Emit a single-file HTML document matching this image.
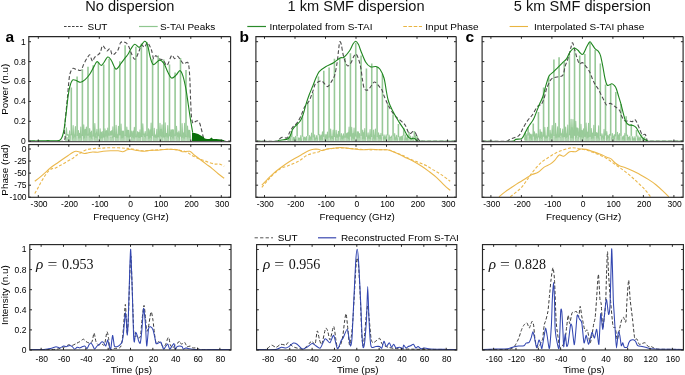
<!DOCTYPE html><html><head><meta charset="utf-8"><style>html,body{margin:0;padding:0;background:#fff;}svg{display:block;filter:blur(0.35px);}</style></head><body>
<svg width="685" height="375" viewBox="0 0 685 375">
<rect width="685" height="375" fill="#fff"/>
<text x="129.8" y="10.8" font-size="14.6" text-anchor="middle" font-weight="normal" font-family='"Liberation Sans", sans-serif' fill="#111" >No dispersion</text>
<text x="356" y="10.8" font-size="14.6" text-anchor="middle" font-weight="normal" font-family='"Liberation Sans", sans-serif' fill="#111" >1 km SMF dispersion</text>
<text x="582.4" y="10.8" font-size="14.6" text-anchor="middle" font-weight="normal" font-family='"Liberation Sans", sans-serif' fill="#111" >5 km SMF dispersion</text>
<path d="M64,26.5H83.5" stroke="#444" stroke-width="1" stroke-dasharray="2.6,1.4" fill="none"/>
<text x="0" y="0" font-size="9.3" text-anchor="start" font-weight="normal" font-family='"Liberation Sans", sans-serif' fill="#000" transform="translate(87.5,30) scale(1.075,1)" >SUT</text>
<path d="M139,26.5H157.7" stroke="#8fc68f" stroke-width="1.2" fill="none"/>
<text x="0" y="0" font-size="9.3" text-anchor="start" font-weight="normal" font-family='"Liberation Sans", sans-serif' fill="#000" transform="translate(159.9,30) scale(1.075,1)" >S-TAI Peaks</text>
<path d="M247.3,26.5H266" stroke="#2a8a2a" stroke-width="1.2" fill="none"/>
<text x="0" y="0" font-size="9.3" text-anchor="start" font-weight="normal" font-family='"Liberation Sans", sans-serif' fill="#000" transform="translate(269.4,30) scale(1.075,1)" >Interpolated from S-TAI</text>
<path d="M403.3,26.5H422" stroke="#e9b440" stroke-width="1.1" stroke-dasharray="3.6,1.6" fill="none"/>
<text x="0" y="0" font-size="9.3" text-anchor="start" font-weight="normal" font-family='"Liberation Sans", sans-serif' fill="#000" transform="translate(425.3,30) scale(1.075,1)" >Input Phase</text>
<path d="M509.6,26.5H528" stroke="#e9b440" stroke-width="1.1" fill="none"/>
<text x="0" y="0" font-size="9.3" text-anchor="start" font-weight="normal" font-family='"Liberation Sans", sans-serif' fill="#000" transform="translate(534,30) scale(1.075,1)" >Interpolated S-TAI phase</text>
<path d="M254.6,237.8H273" stroke="#555" stroke-width="1" stroke-dasharray="3.3,2.2" fill="none"/>
<text x="0" y="0" font-size="9.3" text-anchor="start" font-weight="normal" font-family='"Liberation Sans", sans-serif' fill="#000" transform="translate(277.7,241.3) scale(1.075,1)" >SUT</text>
<path d="M318,237.8H336.2" stroke="#3a48b0" stroke-width="1.2" fill="none"/>
<text x="0" y="0" font-size="9.3" text-anchor="start" font-weight="normal" font-family='"Liberation Sans", sans-serif' fill="#000" transform="translate(340.9,241.3) scale(1.075,1)" >Reconstructed From S-TAI</text>
<text x="5.6" y="42" font-size="15.5" text-anchor="start" font-weight="bold" font-family='"Liberation Sans", sans-serif' fill="#000" >a</text>
<text x="239.4" y="42.2" font-size="15.5" text-anchor="start" font-weight="bold" font-family='"Liberation Sans", sans-serif' fill="#000" >b</text>
<text x="465.6" y="42.2" font-size="15.5" text-anchor="start" font-weight="bold" font-family='"Liberation Sans", sans-serif' fill="#000" >c</text>
<text x="0" y="0" font-size="9.9" text-anchor="middle" font-family='"Liberation Sans", sans-serif' transform="translate(8.2,89.2) rotate(-90)">Power (n.u)</text>
<text x="0" y="0" font-size="9.9" text-anchor="middle" font-family='"Liberation Sans", sans-serif' transform="translate(8.2,169.9) rotate(-90)">Phase (rad)</text>
<text x="0" y="0" font-size="9.9" text-anchor="middle" font-family='"Liberation Sans", sans-serif' transform="translate(8.2,295.2) rotate(-90)">Intensity (n.u)</text>
<clipPath id="cpa"><rect x="28.8" y="36.6" width="201.8" height="105.1"/></clipPath>
<g clip-path="url(#cpa)">
<path d="M64.8,141.2 L64.8,138.45 L65.38,135.94 L65.91,134.97 L66.59,137.1 L67.35,137.2 L68.07,137.04 L68.61,135.18 L69.52,136.75 L70.14,134.12 L71.11,134.38 L71.81,132.3 L72.33,132.91 L72.98,136.65 L73.53,135.79 L74.44,136.46 L75.23,134.06 L75.92,134.54 L76.45,137.09 L77.05,133.84 L77.77,135.76 L78.56,135.03 L79.21,133.25 L80.06,136.12 L80.85,134.66 L81.78,133.59 L82.43,132.28 L82.99,135.22 L83.87,136.61 L84.61,137.2 L85.44,133.41 L86.23,132.83 L86.89,133.77 L87.69,134.37 L88.41,133.01 L89.39,134.92 L90.22,137.08 L91.07,134.02 L92.07,133.11 L92.71,135.38 L93.54,137.28 L94.27,136.52 L94.83,137.09 L95.72,136.72 L96.34,135.36 L97.27,136.98 L98,134.53 L98.94,133.12 L99.87,135.95 L100.58,135.53 L101.52,132.4 L102.1,136.48 L102.71,136.18 L103.46,134.32 L104.09,137.38 L104.8,135.47 L105.58,132.42 L106.43,134.71 L107.23,133.87 L107.76,132.7 L108.65,132.83 L109.55,135.35 L110.25,136.86 L111.07,137.07 L111.6,136.31 L112.18,135.62 L112.71,137.4 L113.28,136.87 L113.97,137.27 L114.9,134.19 L115.48,136.08 L116.15,135.5 L116.71,132.96 L117.71,134.97 L118.45,136.95 L119,135.61 L119.63,133.07 L120.22,137.28 L121.19,134.64 L121.76,134.56 L122.28,134.64 L123.27,132.89 L124.11,136.04 L124.8,136.53 L125.68,134.62 L126.57,135.68 L127.19,133.16 L128.18,132.95 L129.08,133.12 L129.95,136.22 L130.71,135.54 L131.22,137.25 L131.86,136.05 L132.71,132.4 L133.43,132.5 L134.43,132.41 L135.11,136.25 L135.72,136.37 L136.33,134.14 L137.28,133.01 L138.02,133.99 L138.92,136.96 L139.75,132.65 L140.64,133.48 L141.38,136.47 L142.27,135.66 L143.17,132.32 L143.87,135.3 L144.84,133.61 L145.43,136.74 L146,132.67 L146.91,136.64 L147.82,132.28 L148.65,135.57 L149.42,136.72 L149.93,132.33 L150.75,134.65 L151.72,135.13 L152.66,133.08 L153.26,136.08 L153.91,136.14 L154.7,136.04 L155.41,136.72 L156.37,135.55 L157.1,134.35 L158.05,135.2 L159.01,134.78 L159.77,134.66 L160.28,135.1 L160.87,137.38 L161.77,136.5 L162.51,133.61 L163.29,135.7 L164.05,134.5 L164.94,136.85 L165.72,136.1 L166.36,133.36 L167.11,134.46 L167.99,132.63 L168.71,134.2 L169.47,134.72 L170.31,135.04 L171.08,134.9 L172.05,133.75 L172.99,132.48 L173.62,134.48 L174.59,133.01 L175.16,136.76 L175.88,137.02 L176.5,137.02 L177.33,133.3 L178.28,136.59 L179.14,133.95 L179.71,132.79 L180.7,136.25 L181.67,135.32 L182.42,132.23 L183.33,136.56 L184.05,134.71 L184.72,136.38 L185.38,133.63 L185.89,134.51 L186.61,137.31 L187.27,134.14 L188.03,137.06 L189.02,133.28 L190.01,136.85 L190.64,137.82 L191.5,141.2Z" fill="#b3d8b3"/>
<path d="M65.6,139.86 L65.83,134.89 L66.43,127.69 L67.03,135.24 L67.33,134.86 L67.93,134.51 L68.53,136.18 L68.98,138.13 L69.58,130.85 L70.18,135.73 L70.5,138.09 L72.1,139.09 L72.54,135.3 L73.14,125.67 L73.74,138.03 L73.78,135.07 L74.38,135.06 L74.98,136.63 L74.8,134.83 L75.4,126.45 L76,137.33 L76.3,138.93 L77.9,137.8 L77.85,137.74 L78.45,130.66 L79.05,138.16 L79,137.19 L79.6,133.43 L80.2,135.46 L80.21,137.67 L80.81,126.95 L81.41,137.03 L81.6,139.25 L83.2,138.59 L83.13,136.26 L83.73,124.74 L84.33,137.63 L84.59,137.95 L85.19,129.28 L85.79,135.24 L85.8,135.18 L86.4,127 L87,136.86 L87.2,137.86 L88.8,137.34 L89.1,135.19 L89.7,128.44 L90.3,135.66 L90.07,137.03 L90.67,132.81 L91.27,138.14 L90.96,135.53 L91.56,131.03 L92.16,137.38 L92.4,138.83 L94,139.06 L94.23,135.8 L94.83,123.43 L95.43,137.28 L95.07,136.6 L95.67,133.55 L96.27,137.75 L96.32,134.7 L96.92,129.2 L97.52,134.65 L97.6,137.74 L99.2,138.6 L99.52,136.99 L100.12,128.76 L100.72,138.35 L100.39,136.44 L100.99,132.34 L101.59,137.59 L101.62,137.35 L102.22,131.65 L102.82,138.01 L102.9,138.16 L104.5,139.18 L104.37,137.47 L104.97,128.81 L105.57,136.12 L105.81,135.85 L106.41,130.51 L107.01,135.63 L107.18,137.11 L107.78,128 L108.38,134.61 L108.3,138.87 L109.9,137.24 L110.06,135.18 L110.66,131.28 L111.26,134.96 L111.21,135.26 L111.81,130.62 L112.41,137.82 L112.33,135.18 L112.93,126.91 L113.53,135.29 L113.6,136.94 L115.2,137.64 L115.51,135.72 L116.11,125.21 L116.71,137.48 L116.27,136.98 L116.87,134.61 L117.47,137.95 L117.86,135.96 L118.46,126.39 L119.06,135.97 L119,137.36 L120.6,137.91 L120.44,135.51 L121.04,124.12 L121.64,136.44 L121.87,138.1 L122.47,131.12 L123.07,135.55 L122.89,137.34 L123.49,130.99 L124.09,135.58 L124.3,138.72 L125.9,137.19 L126.22,136.9 L126.82,127.01 L127.42,136.53 L127.24,136.01 L127.84,130.4 L128.44,135.91 L128.1,137.39 L128.7,130.3 L129.3,135.53 L129.6,138.43 L131.2,137.68 L131.1,137.33 L131.7,131.12 L132.3,135.8 L132.65,137.24 L133.25,131.01 L133.85,136.39 L133.74,137.9 L134.34,127.27 L134.94,134.95 L135.1,138.73 L136.7,136.51 L137.06,136.61 L137.66,131.53 L138.26,135.23 L138.28,137.33 L138.88,132.51 L139.48,137.55 L139.48,136.14 L140.08,129.7 L140.68,137.81 L140.6,137.81 L142.2,136.58 L142.18,136.42 L142.78,123.91 L143.38,134.98 L143.7,134.94 L144.3,133.96 L144.9,136.5 L144.59,136.48 L145.19,131.67 L145.79,136.64 L146.2,138.44 L147.8,138.9 L147.89,135.16 L148.49,128.7 L149.09,138.34 L149.33,137.89 L149.93,129.92 L150.53,134.83 L150.54,137.25 L151.14,123.14 L151.74,136.94 L151.8,138.18 L153.4,136.45 L153.61,136.72 L154.21,128.27 L154.81,137.3 L154.57,135.18 L155.17,134.82 L155.77,137.26 L156.25,137.34 L156.85,129.33 L157.45,136.41 L157.4,138.76 L159,138.24 L159.4,135.26 L160,123.3 L160.6,135.95 L160.61,136.26 L161.21,129.24 L161.81,135.62 L161.41,136.64 L162.01,124.74 L162.61,135.49 L163,137.46 L164.6,138.48 L164.57,137.87 L165.17,122.9 L165.77,136.56 L165.97,135.54 L166.57,133.52 L167.17,134.64 L167.18,137.21 L167.78,125.47 L168.38,136.23 L168.7,138.18 L170.3,138.82 L170.3,134.91 L170.9,129.73 L171.5,136.46 L171.56,134.56 L172.16,129.47 L172.76,136.64 L172.75,138.01 L173.35,129.87 L173.95,137.05 L174.3,139.04 L175.9,138.62 L175.89,134.98 L176.49,126.29 L177.09,135.5 L177.16,136.36 L177.76,132.75 L178.36,136.92 L178.31,137.3 L178.91,131.11 L179.51,134.67 L179.7,138.94 L181.3,137.87 L181.5,137.53 L182.1,123.5 L182.7,137.32 L182.52,136.66 L183.12,132.84 L183.72,134.73 L184.03,138.27 L184.63,123.41 L185.23,138.23 L185.2,137.28 L186.8,136.75 L186.93,138.35 L187.53,126.12 L188.13,136.86 L188.36,135.1 L188.96,130.01 L189.56,134.66 L189.23,137.76 L189.83,130.66 L190.43,136.37 L190.7,139.28" stroke="#99cb99" stroke-width="1.1" fill="none" stroke-linejoin="round"/>
<path d="M71.3,141.2V87.5M77.1,141.2V76.4M82.4,141.2V69.2M88,141.2V66.8M93.2,141.2V65.2M98.4,141.2V62M103.7,141.2V64.4M109.1,141.2V58.8M114.4,141.2V67.6M119.8,141.2V61.2M125.1,141.2V45.2M130.4,141.2V50.5M135.9,141.2V46.8M141.4,141.2V43.6M147,141.2V42M152.6,141.2V58.8M158.2,141.2V55.6M163.8,141.2V59.6M169.5,141.2V64.4M175.1,141.2V72.4M180.5,141.2V58M186,141.2V70" stroke="#98c998" stroke-width="1.6" fill="none"/>
<path d="M71.3,141.7V135.35M77.1,141.7V135.9M82.4,141.7V136.08M88,141.7V135.79M93.2,141.7V136.56M98.4,141.7V136.32M103.7,141.7V137.6M109.1,141.7V135.74M114.4,141.7V137.12M119.8,141.7V135.4M125.1,141.7V136.09M130.4,141.7V136.94M135.9,141.7V137.38M141.4,141.7V137.07M147,141.7V136.11M152.6,141.7V135.95M158.2,141.7V137.42M163.8,141.7V137.52M169.5,141.7V136.39M175.1,141.7V136.24M180.5,141.7V136.73M186,141.7V137.14" stroke="#fff" stroke-width="0.9" fill="none" opacity="0.8"/>
<path d="M29,141.3C34.5,141.28 56.12,143.08 62,141.2C67.88,139.32 63.7,134.2 64.3,130C64.9,125.8 65.18,120.33 65.6,116C66.02,111.67 66.43,107.75 66.8,104C67.17,100.25 67.5,96.83 67.8,93.5C68.1,90.17 68.3,87 68.6,84C68.9,81 69.2,77.67 69.6,75.5C70,73.33 70.42,72.2 71,71C71.58,69.8 72.35,68.6 73.1,68.3C73.85,68 74.75,68.98 75.5,69.2C76.25,69.42 76.93,69.38 77.6,69.6C78.27,69.82 78.87,70.47 79.5,70.5C80.13,70.53 80.72,70.78 81.4,69.8C82.08,68.82 82.85,66.22 83.6,64.6C84.35,62.98 85.2,61.37 85.9,60.1C86.6,58.83 87.17,57.88 87.8,57C88.43,56.12 89.13,54.55 89.7,54.8C90.27,55.05 90.7,57.43 91.2,58.5C91.7,59.57 92.15,61.37 92.7,61.2C93.25,61.03 93.75,58.45 94.5,57.5C95.25,56.55 96.25,56.33 97.2,55.5C98.15,54.67 99.33,54.12 100.2,52.5C101.07,50.88 101.65,46.55 102.4,45.8C103.15,45.05 103.95,47.13 104.7,48C105.45,48.87 106.02,50.87 106.9,51C107.78,51.13 109.12,48.17 110,48.8C110.88,49.43 111.33,54.05 112.2,54.8C113.07,55.55 114.2,54.18 115.2,53.3C116.2,52.42 117.32,51.25 118.2,49.5C119.08,47.75 119.62,44.05 120.5,42.8C121.38,41.55 122.5,41.93 123.5,42C124.5,42.07 125.58,42.37 126.5,43.2C127.42,44.03 128.25,45.45 129,47C129.75,48.55 130.03,50.45 131,52.5C131.97,54.55 133.55,59.3 134.8,59.3C136.05,59.3 137.38,54.88 138.5,52.5C139.62,50.12 140.5,45.87 141.5,45C142.5,44.13 143.5,47.67 144.5,47.3C145.5,46.93 146.37,42.43 147.5,42.8C148.63,43.17 150.28,46.87 151.3,49.5C152.32,52.13 152.85,57.6 153.6,58.6C154.35,59.6 154.93,55.5 155.8,55.5C156.67,55.5 157.55,57.83 158.8,58.6C160.05,59.37 161.92,58.98 163.3,60.1C164.68,61.22 165.72,66.07 167.1,65.3C168.48,64.53 170.35,56.62 171.6,55.5C172.85,54.38 173.6,58.47 174.6,58.6C175.6,58.73 176.6,56.05 177.6,56.3C178.6,56.55 179.6,58.85 180.6,60.1C181.6,61.35 182.47,63.43 183.6,63.8C184.73,64.17 186.52,61.85 187.4,62.3C188.28,62.75 188.48,63.55 188.9,66.5C189.32,69.45 189.62,74.42 189.9,80C190.18,85.58 190.33,93.83 190.6,100C190.87,106.17 191.1,113.13 191.5,117C191.9,120.87 192.33,122.45 193,123.2C193.67,123.95 194.75,121.9 195.5,121.5C196.25,121.1 196.82,120.55 197.5,120.8C198.18,121.05 198.98,121.72 199.6,123C200.22,124.28 200.73,126.75 201.2,128.5C201.67,130.25 202.03,132 202.4,133.5C202.77,135 202.97,136.38 203.4,137.5C203.83,138.62 204.23,139.58 205,140.2C205.77,140.82 203.83,141.02 208,141.2C212.17,141.38 226.33,141.28 230,141.3" stroke="#4d4d4d" stroke-width="1.1" stroke-dasharray="3.8,2.2" fill="none"/>
<path d="M29.3,141C29.92,140.97 31.88,140.8 33,140.8C34.12,140.8 34.83,141.02 36,141C37.17,140.98 38.67,140.72 40,140.7C41.33,140.68 42.67,140.92 44,140.9C45.33,140.88 46.67,140.6 48,140.6C49.33,140.6 50.67,140.87 52,140.9C53.33,140.93 54.87,140.85 56,140.8C57.13,140.75 58.05,140.8 58.8,140.6C59.55,140.4 59.97,140.15 60.5,139.6C61.03,139.05 61.55,138.32 62,137.3C62.45,136.28 62.83,134.97 63.2,133.5C63.57,132.03 63.87,130.58 64.2,128.5C64.53,126.42 64.87,123.58 65.2,121C65.53,118.42 65.83,116.17 66.2,113C66.57,109.83 67.05,105 67.4,102C67.75,99 68,97.08 68.3,95C68.6,92.92 68.87,91.17 69.2,89.5C69.53,87.83 69.9,86.32 70.3,85C70.7,83.68 71.13,82.47 71.6,81.6C72.07,80.73 72.35,80 73.1,79.8C73.85,79.6 74.85,79.98 76.1,80.4C77.35,80.82 79.1,82.43 80.6,82.3C82.1,82.17 83.58,80.93 85.1,79.6C86.62,78.27 88.18,76.55 89.7,74.3C91.22,72.05 92.95,68.22 94.2,66.1C95.45,63.98 95.95,61.73 97.2,61.6C98.45,61.47 99.95,66.05 101.7,65.3C103.45,64.55 106.07,57.85 107.7,57.1C109.33,56.35 110.12,58.8 111.5,60.8C112.88,62.8 114.38,68.72 116,69.1C117.62,69.48 119.58,65.1 121.2,63.1C122.82,61.1 124.57,58.57 125.7,57.1C126.83,55.63 127.12,55.68 128,54.3C128.88,52.92 129.87,50.47 131,48.8C132.13,47.13 133.42,44.55 134.8,44.3C136.18,44.05 137.68,47.8 139.3,47.3C140.92,46.8 143.13,41.68 144.5,41.3C145.87,40.92 146.48,42.12 147.5,45C148.52,47.88 149.58,55.33 150.6,58.6C151.62,61.87 152.1,64.35 153.6,64.6C155.1,64.85 157.85,60.23 159.6,60.1C161.35,59.97 162.73,61.8 164.1,63.8C165.47,65.8 166.55,69.72 167.8,72.1C169.05,74.48 170.22,77.6 171.6,78.1C172.98,78.6 174.72,76.35 176.1,75.1C177.48,73.85 178.77,70.48 179.9,70.6C181.03,70.72 181.9,72.75 182.9,75.8C183.9,78.85 185.02,84.2 185.9,88.9C186.78,93.6 187.45,98.98 188.2,104C188.95,109.02 189.65,114.23 190.4,119C191.15,123.77 192.32,130.33 192.7,132.6" stroke="#1f861f" stroke-width="1.1" fill="none"/>
<path d="M192,141.3 L192,132.8 L194.7,133.1 L198.1,134.1 L200.8,135.4 L203.4,137.1 L204.8,138.6 L207,139 L209.5,139.1 L211,138 L211.8,137.6 L212.8,139 L216.2,139.1 L220.9,139.4 L223.6,140 L225.3,141.3Z" fill="#0a6e0a"/>
</g>
<clipPath id="cha"><rect x="28.8" y="144.6" width="201.8" height="52.7"/></clipPath>
<g clip-path="url(#cha)">
<path d="M34.8,193.6C35.42,192.5 37.35,189.08 38.5,187C39.65,184.92 40.53,183.1 41.7,181.1C42.87,179.1 44.27,176.8 45.5,175C46.73,173.2 47.93,171.38 49.1,170.3C50.27,169.22 51.4,168.9 52.5,168.5C53.6,168.1 54.53,168.35 55.7,167.9C56.87,167.45 58.15,166.53 59.5,165.8C60.85,165.07 62.38,164.3 63.8,163.5C65.22,162.7 66.53,161.85 68,161C69.47,160.15 71.27,159.27 72.6,158.4C73.93,157.53 74.78,156.65 76,155.8C77.22,154.95 78.27,154.27 79.9,153.3C81.53,152.33 83.6,150.78 85.8,150C88,149.22 90.73,148.88 93.1,148.6C95.47,148.32 97.57,148.43 100,148.3C102.43,148.17 104.67,147.88 107.7,147.8C110.73,147.72 115.2,147.72 118.2,147.8C121.2,147.88 123.57,148.15 125.7,148.3C127.83,148.45 128.12,148.28 131,148.7C133.88,149.12 138.48,150.62 143,150.8C147.52,150.98 153.08,150.05 158.1,149.8C163.12,149.55 169.35,149.18 173.1,149.3C176.85,149.42 178.35,150.05 180.6,150.5C182.85,150.95 184.83,151.25 186.6,152C188.37,152.75 189.43,154 191.2,155C192.97,156 195.2,157.12 197.2,158C199.2,158.88 201.2,159.55 203.2,160.3C205.2,161.05 207.2,161.87 209.2,162.5C211.2,163.13 213.45,163.83 215.2,164.1C216.95,164.37 218.2,163.73 219.7,164.1C221.2,164.47 223.45,165.93 224.2,166.3" stroke="#ebb84c" stroke-width="1.1" stroke-dasharray="3,1.8" fill="none"/>
<path d="M34.8,181.3C36.17,180.18 40.37,176.85 43,174.6C45.63,172.35 48.08,169.82 50.6,167.8C53.12,165.78 55.6,164.25 58.1,162.5C60.6,160.75 63.1,159 65.6,157.3C68.1,155.6 71.35,153.3 73.1,152.3C74.85,151.3 74.97,151.35 76.1,151.3C77.23,151.25 78.52,151.63 79.9,152C81.28,152.37 83.02,153.37 84.4,153.5C85.78,153.63 86.82,153.05 88.2,152.8C89.58,152.55 91.08,152.08 92.7,152C94.32,151.92 96.15,152.42 97.9,152.3C99.65,152.18 101.07,151.55 103.2,151.3C105.33,151.05 108.2,150.88 110.7,150.8C113.2,150.72 116.2,150.65 118.2,150.8C120.2,150.95 121.2,151.87 122.7,151.7C124.2,151.53 125.82,150.2 127.2,149.8C128.58,149.4 129.62,149.23 131,149.3C132.38,149.37 133.5,149.87 135.5,150.2C137.5,150.53 140.48,151.3 143,151.3C145.52,151.3 148.08,150.38 150.6,150.2C153.12,150.02 155.35,150.35 158.1,150.2C160.85,150.05 163.85,149.35 167.1,149.3C170.35,149.25 175.1,149.5 177.6,149.9C180.1,150.3 180.08,151.47 182.1,151.7C184.12,151.93 187.68,150.75 189.7,151.3C191.72,151.85 192.45,153.63 194.2,155C195.95,156.37 198.2,157.98 200.2,159.5C202.2,161.02 204.2,162.58 206.2,164.1C208.2,165.62 210.2,166.98 212.2,168.6C214.2,170.22 216.2,172.18 218.2,173.8C220.2,175.42 223.2,177.55 224.2,178.3" stroke="#ebb84c" stroke-width="1.1" fill="none"/>
</g>
<path d="M28.8,141.7H28.8V36.6H230.6" stroke="#262626" stroke-width="1.15" fill="none"/>
<path d="M230.6,36.6V141.7" stroke="#262626" stroke-width="1.15" fill="none"/>
<path d="M28.3,141.7H231.1" stroke="#595959" stroke-width="1.3" fill="none"/>
<rect x="28.8" y="144.6" width="201.8" height="52.7" fill="none" stroke="#262626" stroke-width="1.15"/>
<path d="M38.3,36.6v2.2M38.3,141.7v-2.2M68.8,36.6v2.2M68.8,141.7v-2.2M99.3,36.6v2.2M99.3,141.7v-2.2M129.8,36.6v2.2M129.8,141.7v-2.2M160.3,36.6v2.2M160.3,141.7v-2.2M190.8,36.6v2.2M190.8,141.7v-2.2M221.3,36.6v2.2M221.3,141.7v-2.2" stroke="#262626" stroke-width="1" fill="none"/>
<path d="M38.3,144.6v2.2M38.3,197.3v-2.2M68.8,144.6v2.2M68.8,197.3v-2.2M99.3,144.6v2.2M99.3,197.3v-2.2M129.8,144.6v2.2M129.8,197.3v-2.2M160.3,144.6v2.2M160.3,197.3v-2.2M190.8,144.6v2.2M190.8,197.3v-2.2M221.3,144.6v2.2M221.3,197.3v-2.2" stroke="#262626" stroke-width="1" fill="none"/>
<path d="M28.8,141.2h2.2M230.6,141.2h-2.2M28.8,121.3h2.2M230.6,121.3h-2.2M28.8,101.4h2.2M230.6,101.4h-2.2M28.8,81.5h2.2M230.6,81.5h-2.2M28.8,61.6h2.2M230.6,61.6h-2.2M28.8,41.7h2.2M230.6,41.7h-2.2" stroke="#262626" stroke-width="1" fill="none"/>
<path d="M28.8,149h2.2M230.6,149h-2.2M28.8,161.06h2.2M230.6,161.06h-2.2M28.8,173.12h2.2M230.6,173.12h-2.2M28.8,185.19h2.2M230.6,185.19h-2.2M28.8,197.25h2.2M230.6,197.25h-2.2" stroke="#262626" stroke-width="1" fill="none"/>
<text x="39.1" y="207.3" font-size="8.5" text-anchor="middle" font-weight="normal" font-family='"Liberation Sans", sans-serif' fill="#000" >-300</text>
<text x="69.6" y="207.3" font-size="8.5" text-anchor="middle" font-weight="normal" font-family='"Liberation Sans", sans-serif' fill="#000" >-200</text>
<text x="100.1" y="207.3" font-size="8.5" text-anchor="middle" font-weight="normal" font-family='"Liberation Sans", sans-serif' fill="#000" >-100</text>
<text x="130.6" y="207.3" font-size="8.5" text-anchor="middle" font-weight="normal" font-family='"Liberation Sans", sans-serif' fill="#000" >0</text>
<text x="161.1" y="207.3" font-size="8.5" text-anchor="middle" font-weight="normal" font-family='"Liberation Sans", sans-serif' fill="#000" >100</text>
<text x="191.6" y="207.3" font-size="8.5" text-anchor="middle" font-weight="normal" font-family='"Liberation Sans", sans-serif' fill="#000" >200</text>
<text x="222.1" y="207.3" font-size="8.5" text-anchor="middle" font-weight="normal" font-family='"Liberation Sans", sans-serif' fill="#000" >300</text>
<text x="0" y="0" font-size="9.2" text-anchor="middle" font-weight="normal" font-family='"Liberation Sans", sans-serif' fill="#000" transform="translate(131,219.8) scale(1.07,1)" >Frequency (GHz)</text>
<clipPath id="cta"><rect x="29.8" y="244.6" width="201.2" height="105.4"/></clipPath>
<g clip-path="url(#cta)">
<path d="M30,349.6C32.92,349.58 51.12,349.67 55,349.4C58.88,349.13 62.02,347.64 63.3,347.3C64.58,346.96 65.39,346.79 66,346.5C66.61,346.21 67.77,344.93 68.5,344.8C69.23,344.67 71.42,345.54 72.3,345.4C73.17,345.26 75.14,344.03 76,343.6C76.86,343.17 78.84,342.21 79.7,341.7C80.56,341.19 82.67,339.22 83.4,339.2C84.14,339.18 85.35,341.06 86,341.5C86.65,341.94 88.3,342.98 89,343C89.7,343.02 91.42,342.87 92,341.7C92.58,340.53 93.63,333.43 94,333C94.37,332.57 94.97,336.99 95.2,338C95.43,339.01 95.64,340.91 96,341.7C96.36,342.49 97.6,344.51 98.3,344.8C99,345.09 101.28,344.2 102,344.2C102.72,344.2 103.92,346.25 104.5,344.8C105.08,343.35 106.52,332.52 107,331.8C107.48,331.08 108.24,336.57 108.6,338.6C108.96,340.63 109.42,348.05 110.1,349.2C110.78,350.35 113.31,348.65 114.4,348.5C115.49,348.35 118.63,348.19 119.4,347.9C120.17,347.61 120.66,346.92 121,346C121.34,345.08 122.01,342.22 122.3,340C122.59,337.78 123.15,331.14 123.5,327C123.85,322.86 124.98,305.55 125.3,304.5C125.61,303.45 125.97,314.56 126.2,318C126.43,321.44 127.03,334.35 127.3,334C127.57,333.65 128.23,321.3 128.5,315C128.77,308.7 129.33,286.88 129.6,280C129.87,273.12 130.52,255.77 130.8,256C131.08,256.23 131.74,275.47 132,282C132.26,288.53 132.77,305.82 133,312C133.23,318.18 133.59,332.2 134,335C134.41,337.8 135.97,335.65 136.5,336C137.03,336.35 138.03,338 138.5,338C138.97,338 140.09,338.1 140.5,336C140.91,333.9 141.59,323.57 142,320C142.41,316.43 143.59,305.63 144,305.4C144.41,305.17 145.19,315.01 145.5,318C145.81,320.99 146.37,329.83 146.7,331C147.03,332.17 147.86,329.98 148.3,328C148.74,326.02 150.13,315.84 150.5,314C150.87,312.16 151.21,311.45 151.5,312.2C151.79,312.95 152.65,317.86 153,320.4C153.35,322.94 154.14,331.36 154.5,334C154.86,336.64 155.63,342.1 156.1,343C156.57,343.9 157.93,341.63 158.5,341.7C159.07,341.77 160.42,342.95 161,343.6C161.58,344.25 162.92,347.3 163.5,347.3C164.08,347.3 165.5,344.69 166,343.6C166.5,342.52 167.45,338.65 167.8,338C168.15,337.35 168.71,337.21 169,338C169.29,338.79 169.86,343.65 170.3,344.8C170.74,345.95 172.22,347.9 172.8,347.9C173.38,347.9 174.72,345.37 175.3,344.8C175.88,344.23 177.3,343.43 177.8,343C178.3,342.57 179.17,340.96 179.6,341.1C180.03,341.24 180.92,344.06 181.5,344.2C182.08,344.34 183.96,342.01 184.6,342.3C185.24,342.59 186.35,346.27 187,346.7C187.65,347.13 189.53,345.86 190.2,346C190.86,346.14 191.84,347.68 192.7,347.9C193.56,348.12 196.67,347.71 197.6,347.9C198.53,348.09 196.8,349.31 200.7,349.5C204.6,349.69 227.47,349.5 231,349.5" stroke="#3c3c3c" stroke-width="1.0" stroke-dasharray="3.4,2" fill="none"/>
<path d="M30,349.5C31.62,349.5 41.75,349.58 43.9,349.5C46.05,349.42 47.41,348.99 48.4,348.8C49.39,348.61 51.5,348.14 52.4,347.9C53.3,347.65 55.23,346.7 56.1,346.7C56.98,346.7 59.02,347.98 59.9,347.9C60.77,347.82 62.88,346.14 63.6,346C64.32,345.86 65.38,346.77 66.1,346.7C66.82,346.63 69.08,345.4 69.8,345.4C70.52,345.4 71.73,346.26 72.3,346.7C72.87,347.14 74.13,349.13 74.7,349.2C75.27,349.27 76.62,347.45 77.2,347.3C77.78,347.15 79.12,347.97 79.7,347.9C80.28,347.83 81.62,346.92 82.2,346.7C82.78,346.48 84.13,345.79 84.7,346C85.27,346.21 86.6,348.64 87.1,348.5C87.6,348.36 88.56,345.44 89,344.8C89.44,344.16 90.47,342.93 90.9,343C91.33,343.07 92.27,344.68 92.7,345.4C93.13,346.12 94.09,349.13 94.6,349.2C95.11,349.27 96.52,346.58 97.1,346C97.68,345.42 99.03,344.7 99.6,344.2C100.17,343.7 101.5,341.84 102,341.7C102.5,341.56 103.46,342.5 103.9,343C104.34,343.5 105.37,346.36 105.8,346C106.23,345.64 107.24,340.04 107.6,339.9C107.96,339.76 108.54,343.72 108.9,344.8C109.26,345.88 110.27,350.28 110.7,349.2C111.13,348.12 112.17,335.87 112.6,335.5C113.03,335.13 113.9,344.69 114.4,346C114.9,347.31 116.32,346.77 116.9,346.7C117.48,346.63 118.82,345.91 119.4,345.4C119.98,344.89 121.47,343.3 121.9,342.3C122.33,341.3 122.83,338.82 123.1,336.8C123.37,334.78 123.93,327.79 124.2,325C124.47,322.21 125.14,313.25 125.4,312.9C125.66,312.55 126.18,319.42 126.4,322C126.62,324.58 127.08,335.47 127.3,335C127.52,334.53 128.07,323.83 128.3,318C128.53,312.17 129.03,293.01 129.3,285C129.57,276.99 130.3,249.88 130.6,249.3C130.9,248.72 131.64,272.92 131.9,280C132.16,287.08 132.6,303.47 132.8,310C133,316.53 133.41,332.27 133.6,336C133.79,339.73 134.17,342.42 134.4,342C134.63,341.58 135.25,333.09 135.6,332.4C135.95,331.71 137.04,335.09 137.4,336.1C137.76,337.12 138.36,340.3 138.7,341.1C139.04,341.91 139.94,344.2 140.3,343C140.66,341.8 141.42,334.84 141.8,330.8C142.19,326.76 143.17,309.09 143.6,308.4C144.03,307.71 145.14,320.51 145.5,324.9C145.86,329.29 146.34,345.56 146.7,346C147.06,346.44 148.16,330.94 148.6,328.7C149.04,326.46 149.99,326.66 150.5,326.8C151.01,326.94 152.5,328.66 153,329.9C153.5,331.14 154.44,335.8 154.8,337.4C155.16,339 155.67,342.95 156.1,343.6C156.53,344.25 157.93,343.15 158.5,343C159.07,342.85 160.42,341.58 161,342.3C161.58,343.02 162.92,348.77 163.5,349.2C164.08,349.63 165.5,346.58 166,346C166.5,345.42 167.37,343.83 167.8,344.2C168.23,344.57 169.26,348.91 169.7,349.2C170.14,349.49 171.1,347.35 171.6,346.7C172.1,346.05 173.57,343.31 174,343.6C174.43,343.89 174.94,348.84 175.3,349.2C175.66,349.56 176.6,347.07 177.1,346.7C177.6,346.33 179.02,346 179.6,346C180.18,346 181.67,346.33 182.1,346.7C182.53,347.07 182.87,349.06 183.3,349.2C183.73,349.34 185.07,347.95 185.8,347.9C186.53,347.85 188.59,348.61 189.6,348.8C190.61,348.99 193.34,349.39 194.5,349.5C195.66,349.61 195.24,349.71 199.5,349.7C203.76,349.69 227.32,349.44 231,349.4" stroke="#3246b0" stroke-width="1.05" fill="none" stroke-linejoin="round"/>
</g>
<rect x="29.8" y="244.6" width="201.2" height="105.4" fill="none" stroke="#262626" stroke-width="1.15"/>
<path d="M41.14,244.6v2.2M41.14,350v-2.2M63.48,244.6v2.2M63.48,350v-2.2M85.82,244.6v2.2M85.82,350v-2.2M108.16,244.6v2.2M108.16,350v-2.2M130.5,244.6v2.2M130.5,350v-2.2M152.84,244.6v2.2M152.84,350v-2.2M175.18,244.6v2.2M175.18,350v-2.2M197.52,244.6v2.2M197.52,350v-2.2M219.86,244.6v2.2M219.86,350v-2.2" stroke="#262626" stroke-width="1" fill="none"/>
<path d="M29.8,350h2.2M231,350h-2.2M29.8,329.9h2.2M231,329.9h-2.2M29.8,309.8h2.2M231,309.8h-2.2M29.8,289.7h2.2M231,289.7h-2.2M29.8,269.6h2.2M231,269.6h-2.2M29.8,249.5h2.2M231,249.5h-2.2" stroke="#262626" stroke-width="1" fill="none"/>
<text x="41.74" y="361.8" font-size="8.5" text-anchor="middle" font-weight="normal" font-family='"Liberation Sans", sans-serif' fill="#000" >-80</text>
<text x="64.08" y="361.8" font-size="8.5" text-anchor="middle" font-weight="normal" font-family='"Liberation Sans", sans-serif' fill="#000" >-60</text>
<text x="86.42" y="361.8" font-size="8.5" text-anchor="middle" font-weight="normal" font-family='"Liberation Sans", sans-serif' fill="#000" >-40</text>
<text x="108.76" y="361.8" font-size="8.5" text-anchor="middle" font-weight="normal" font-family='"Liberation Sans", sans-serif' fill="#000" >-20</text>
<text x="131.1" y="361.8" font-size="8.5" text-anchor="middle" font-weight="normal" font-family='"Liberation Sans", sans-serif' fill="#000" >0</text>
<text x="153.44" y="361.8" font-size="8.5" text-anchor="middle" font-weight="normal" font-family='"Liberation Sans", sans-serif' fill="#000" >20</text>
<text x="175.78" y="361.8" font-size="8.5" text-anchor="middle" font-weight="normal" font-family='"Liberation Sans", sans-serif' fill="#000" >40</text>
<text x="198.12" y="361.8" font-size="8.5" text-anchor="middle" font-weight="normal" font-family='"Liberation Sans", sans-serif' fill="#000" >60</text>
<text x="220.46" y="361.8" font-size="8.5" text-anchor="middle" font-weight="normal" font-family='"Liberation Sans", sans-serif' fill="#000" >80</text>
<text x="0" y="0" font-size="9.2" text-anchor="middle" font-weight="normal" font-family='"Liberation Sans", sans-serif' fill="#000" transform="translate(131.4,372.8) scale(1.08,1)" >Time (ps)</text>
<clipPath id="cpb"><rect x="255.9" y="36.6" width="200.3" height="105.1"/></clipPath>
<g clip-path="url(#cpb)">
<path d="M287.5,141.2 L287.5,139.29 L288.01,139.71 L288.74,138.72 L289.56,138.8 L290.3,139.75 L290.92,138.63 L291.77,139.6 L292.28,139.29 L293.12,139.38 L293.75,138.96 L294.71,139.64 L295.23,139.44 L295.94,138.84 L296.54,138.62 L297.41,139.08 L298.01,138.24 L298.67,138.47 L299.28,139.5 L300.16,139.34 L301.14,138.92 L301.73,139.41 L302.44,138.53 L303.41,139.49 L304.11,139.33 L305.1,139.44 L305.62,139.58 L306.32,137.81 L307.26,138.09 L308.26,137.59 L308.92,139.18 L309.89,137.87 L310.41,138.02 L311.1,138.65 L311.76,139.09 L312.27,138.8 L312.94,137.13 L313.5,137.06 L314.11,138.51 L315.02,137.28 L315.73,139.21 L316.47,138.33 L317.43,138.75 L318.11,136.81 L318.63,138.09 L319.53,137.04 L320.05,139.06 L320.58,136.52 L321.21,136.95 L322.16,138.07 L322.8,136.19 L323.61,138.21 L324.47,138 L325.1,138.93 L325.98,136.02 L326.8,135.86 L327.31,138.1 L328.05,135.69 L329.02,137.5 L329.65,137.32 L330.4,135.58 L330.99,135.95 L331.86,135.81 L332.74,136.5 L333.41,137.48 L334.09,135.79 L334.63,137.86 L335.51,137.64 L336.04,138.4 L336.81,137.29 L337.8,135.15 L338.8,137.43 L339.34,138.05 L340.09,135.67 L340.81,137.47 L341.52,135.94 L342.36,135.4 L343.28,135.69 L343.84,134.97 L344.49,136.03 L345.18,135.32 L345.78,137.28 L346.4,137.64 L347.34,135.9 L348,136.63 L349,136.15 L349.61,134.91 L350.44,134.14 L350.99,136.26 L351.9,134.74 L352.86,138.03 L353.51,137.71 L354.1,134.19 L354.89,134.37 L355.58,134.63 L356.3,137.14 L357.19,134.32 L357.75,135.77 L358.56,137.33 L359.24,137.65 L359.84,137.2 L360.64,135.6 L361.24,138.21 L361.91,135.53 L362.5,137.02 L363.1,135.1 L363.87,138.05 L364.43,136.75 L365.2,135.81 L365.75,137.7 L366.59,136.77 L367.24,137.19 L368.21,137.21 L369,137.07 L369.7,135.19 L370.7,137.12 L371.3,135.8 L371.9,138.5 L372.85,137.01 L373.76,137.13 L374.7,136.98 L375.29,138.59 L376.06,136.44 L377.02,138.4 L377.83,137.48 L378.58,138.28 L379.22,137.07 L380.18,138.48 L380.93,136.28 L381.91,138.28 L382.48,135.98 L383.46,137.48 L383.99,136.17 L384.68,136.31 L385.5,136.62 L386.08,136.78 L386.69,137.94 L387.61,136.79 L388.2,138.56 L388.9,137.77 L389.59,138.89 L390.22,137.3 L391.16,139.18 L391.95,137.36 L392.46,137.2 L393.02,137.85 L393.8,137.84 L394.45,138.39 L395.24,138.43 L396.07,138.43 L396.79,139.46 L397.6,138.42 L398.22,137.84 L399.11,138.58 L399.7,138.58 L400.25,139.36 L400.97,139.47 L401.69,138.62 L402.21,138.39 L402.75,138.23 L403.64,138.73 L404.17,138.77 L404.85,137.94 L405.42,138.16 L406.42,138.46 L407.33,139.5 L408.32,139 L409.3,138.29 L409.88,138.55 L410.85,139.84 L411.52,138.69 L412.1,138.49 L412.74,138.65 L413.31,139.19 L414.27,139.7 L414.9,139.25 L415.56,140 L416.15,139.82 L417.12,139.06 L418.07,139.86 L418.5,141.2Z" fill="#b3d8b3"/>
<path d="M288.3,140.59 L288.12,140.01 L288.72,136.83 L289.32,139.47 L289.08,139.43 L289.68,138.47 L290.28,140.27 L290.24,139.93 L290.84,136.69 L291.44,139.49 L291,140.41 L292.6,139.8 L292.73,139.45 L293.33,137.26 L293.93,139.82 L293.7,140.26 L294.3,137.9 L294.9,139.35 L294.91,139.11 L295.51,136.26 L296.11,139.59 L296.33,139.96 L297.93,140.29 L297.77,140.05 L298.37,137.9 L298.97,139.46 L299.16,139.04 L299.76,138.05 L300.36,140.04 L300.23,140.16 L300.83,135.64 L301.43,140.19 L301.66,140.13 L303.26,140.39 L303.28,139.28 L303.88,136.8 L304.48,139.28 L304.38,139.4 L304.98,137.39 L305.58,139.9 L305.92,139.83 L306.52,136.47 L307.12,139.91 L306.99,139.67 L308.59,139.39 L308.82,139.55 L309.42,135.51 L310.02,139.96 L309.93,139.37 L310.53,137.06 L311.13,138.88 L311,138.67 L311.6,132.94 L312.2,139.5 L312.32,139.12 L313.92,140.26 L314.03,139.4 L314.63,134.79 L315.23,139.73 L315.32,138.76 L315.92,138.35 L316.52,138.03 L316.18,138.61 L316.78,135.47 L317.38,138.8 L317.65,139.26 L319.25,139 L319.18,139.06 L319.78,134.54 L320.38,139.58 L320.71,138.13 L321.31,135.18 L321.91,139.61 L321.86,138.59 L322.46,131.84 L323.06,138 L322.98,139.35 L324.58,139.73 L324.48,139.42 L325.08,134.25 L325.68,138.75 L325.97,137.5 L326.57,134.91 L327.17,137.81 L326.9,138.41 L327.5,132.05 L328.1,137.58 L328.31,139.04 L329.91,139.51 L330.07,138.8 L330.67,129.01 L331.27,137.15 L330.93,138.72 L331.53,136.28 L332.13,137.44 L332.57,138.43 L333.17,129.96 L333.77,137 L333.64,139.24 L335.24,139.42 L335.54,137.33 L336.14,130.28 L336.74,137.41 L336.74,136.88 L337.34,134.89 L337.94,137.26 L337.86,137.14 L338.46,131.31 L339.06,137.57 L338.97,139.16 L340.57,139.36 L340.72,136.5 L341.32,133.57 L341.92,138.67 L341.6,136.41 L342.2,136.39 L342.8,138.08 L342.83,138.92 L343.43,133.79 L344.03,137.04 L344.3,138.36 L345.9,138.22 L346.11,137.25 L346.71,133.36 L347.31,137.92 L347.32,136.34 L347.92,132.51 L348.52,138.78 L348.52,136.16 L349.12,126.96 L349.72,138.65 L349.63,139.25 L351.23,139.46 L351.09,136.52 L351.69,127.37 L352.29,137.06 L352.66,138.09 L353.26,133.39 L353.86,138.65 L353.47,138.34 L354.07,128.02 L354.67,137.99 L354.96,138.75 L356.56,139.65 L356.53,136.82 L357.13,131.61 L357.73,137.86 L357.74,137.46 L358.34,131.7 L358.94,136.43 L359.06,137.75 L359.66,133.56 L360.26,137.68 L360.29,138.02 L361.89,138.96 L362.08,138.38 L362.68,129.98 L363.28,136.49 L362.95,138.53 L363.55,132.68 L364.15,139.02 L364.18,136.23 L364.78,128.52 L365.38,139.03 L365.62,138.74 L367.22,138.73 L367.46,137.72 L368.06,132.92 L368.66,138.13 L368.65,136.52 L369.25,135.8 L369.85,138.35 L369.51,137.79 L370.11,129.58 L370.71,138.85 L370.95,138.58 L372.55,139.7 L372.79,137.16 L373.39,130.05 L373.99,137.58 L373.74,138.23 L374.34,135.49 L374.94,136.95 L374.78,139.22 L375.38,129.14 L375.98,138.76 L376.28,139.46 L377.88,138.27 L377.97,137.22 L378.57,132.81 L379.17,138.81 L379.13,137.61 L379.73,135.4 L380.33,137.61 L380.39,138.69 L380.99,133.33 L381.59,139.09 L381.61,138.62 L383.21,138.93 L383.42,138.57 L384.02,134.74 L384.62,137.83 L384.51,138.58 L385.11,137.48 L385.71,137.66 L385.52,138.97 L386.12,134.88 L386.72,138.12 L386.94,138.87 L388.54,139.93 L388.46,139.05 L389.06,134.97 L389.66,138.66 L389.64,139.37 L390.24,137.15 L390.84,137.84 L391.09,137.96 L391.69,135.99 L392.29,139.59 L392.27,139.75 L393.87,138.93 L394.11,139.1 L394.71,133.53 L395.31,139.52 L395.2,139.55 L395.8,138.28 L396.4,139.23 L396.07,138.59 L396.67,135.27 L397.27,138.75 L397.6,139.77 L399.2,139.61 L399.27,139.06 L399.87,136.69 L400.47,139.38 L400.59,139.39 L401.19,136.47 L401.79,139.17 L401.76,139.74 L402.36,135.9 L402.96,139 L402.93,139.52 L404.53,139.63 L404.72,139.2 L405.32,134.72 L405.92,139.25 L405.77,139.31 L406.37,138.4 L406.97,140.04 L406.93,139.25 L407.53,135.25 L408.13,139.36 L408.26,140.31 L409.86,140.14 L409.93,139.75 L410.53,136.12 L411.13,139.41 L411.34,139.49 L411.94,138.98 L412.54,139.34 L412.24,139.13 L412.84,136.74 L413.44,140.26 L413.59,140.14 L415.19,140.48 L415.08,139.76 L415.68,135.69 L416.28,140.23 L415.88,139.56 L416.48,138.46 L417.08,139.79 L416.82,139.8 L417.42,136.16 L418.02,139.92 L417.7,139.89" stroke="#99cb99" stroke-width="1.1" fill="none" stroke-linejoin="round"/>
<path d="M291.8,141.2V131M297.13,141.2V124.3M302.46,141.2V115.3M307.79,141.2V102.5M313.12,141.2V92.4M318.45,141.2V76.4M323.78,141.2V70.8M329.11,141.2V67.6M334.44,141.2V58.8M339.77,141.2V58M345.1,141.2V58M350.43,141.2V53.2M355.76,141.2V42.8M361.09,141.2V55.6M366.42,141.2V68.4M371.75,141.2V63.6M377.08,141.2V66.8M382.41,141.2V74M387.74,141.2V104M393.07,141.2V114.6M398.4,141.2V124M403.73,141.2V128M409.06,141.2V132M414.39,141.2V131" stroke="#98c998" stroke-width="1.6" fill="none"/>
<path d="M291.8,141.7V137.17M297.13,141.7V135.99M302.46,141.7V136.72M307.79,141.7V135.79M313.12,141.7V137.39M318.45,141.7V135.24M323.78,141.7V136.81M329.11,141.7V137.56M334.44,141.7V137.01M339.77,141.7V136.7M345.1,141.7V137.67M350.43,141.7V136.65M355.76,141.7V136.65M361.09,141.7V135.95M366.42,141.7V136.82M371.75,141.7V137.04M377.08,141.7V137.14M382.41,141.7V135.85M387.74,141.7V135.35M393.07,141.7V136.38M398.4,141.7V137.15M403.73,141.7V135.7M409.06,141.7V136.72M414.39,141.7V137.17" stroke="#fff" stroke-width="0.9" fill="none" opacity="0.8"/>
<path d="M256.5,141.3C259.75,141.28 272.42,141.4 276,141.2C279.58,141 276.98,140.75 278,140.1C279.02,139.45 280.93,137.68 282.1,137.3C283.27,136.92 284.18,137.72 285,137.8C285.82,137.88 286.23,138.67 287,137.8C287.77,136.93 288.67,134.35 289.6,132.6C290.53,130.85 291.35,128.93 292.6,127.3C293.85,125.67 295.72,124.67 297.1,122.8C298.48,120.93 299.65,118.73 300.9,116.1C302.15,113.47 303.23,109.52 304.6,107C305.97,104.48 307.85,103.25 309.1,101C310.35,98.75 311.35,95.5 312.1,93.5C312.85,91.5 313.08,90.57 313.6,89C314.12,87.43 314.43,85.28 315.2,84.1C315.97,82.92 317.08,82.4 318.2,81.9C319.32,81.4 320.78,80.73 321.9,81.1C323.02,81.47 323.9,83.2 324.9,84.1C325.9,85 326.77,87 327.9,86.5C329.03,86 330.57,83 331.7,81.1C332.83,79.2 333.78,78.28 334.7,75.1C335.62,71.92 336.55,66.18 337.2,62C337.85,57.82 338.18,53.33 338.6,50C339.02,46.67 339.27,43 339.7,42C340.13,41 340.72,42.33 341.2,44C341.68,45.67 342.13,49.67 342.6,52C343.07,54.33 343.43,56.08 344,58C344.57,59.92 345.33,62.17 346,63.5C346.67,64.83 347.13,66.17 348,66C348.87,65.83 350.28,64 351.2,62.5C352.12,61 352.7,58.42 353.5,57C354.3,55.58 355.17,53.67 356,54C356.83,54.33 357.7,56.67 358.5,59C359.3,61.33 360.13,64.5 360.8,68C361.47,71.5 361.93,76.58 362.5,80C363.07,83.42 363.53,86.8 364.2,88.5C364.87,90.2 365.73,90.08 366.5,90.2C367.27,90.32 367.97,89.98 368.8,89.2C369.63,88.42 370.58,86.7 371.5,85.5C372.42,84.3 373.33,82.23 374.3,82C375.27,81.77 376.35,83.18 377.3,84.1C378.25,85.02 379.22,86.52 380,87.5C380.78,88.48 381.32,88.58 382,90C382.68,91.42 383,93.33 384.1,96C385.2,98.67 386.85,102.78 388.6,106C390.35,109.22 392.6,112.87 394.6,115.3C396.6,117.73 398.85,118.98 400.6,120.6C402.35,122.22 403.78,123.02 405.1,125C406.42,126.98 407.6,131.08 408.5,132.5C409.4,133.92 409.75,133.67 410.5,133.5C411.25,133.33 412.17,131.58 413,131.5C413.83,131.42 414.75,131.92 415.5,133C416.25,134.08 416.83,136.73 417.5,138C418.17,139.27 418.58,140.07 419.5,140.6C420.42,141.13 416.92,141.08 423,141.2C429.08,141.32 450.5,141.28 456,141.3" stroke="#4d4d4d" stroke-width="1.1" stroke-dasharray="3.8,2.2" fill="none"/>
<path d="M256.8,141.3C260,141.32 272.3,141.57 276,141.4C279.7,141.23 277.23,140.63 279,140.3C280.77,139.97 284.83,139.93 286.6,139.4C288.37,138.87 288.6,138.73 289.6,137.1C290.6,135.47 291.6,131.48 292.6,129.6C293.6,127.72 294.35,127.18 295.6,125.8C296.85,124.42 298.85,123.17 300.1,121.3C301.35,119.43 302.1,117.48 303.1,114.6C304.1,111.72 305.1,107.27 306.1,104C307.1,100.73 307.98,98 309.1,95C310.22,92 311.73,88.67 312.8,86C313.87,83.33 314.43,81.4 315.5,79C316.57,76.6 317.52,73.63 319.2,71.6C320.88,69.57 323.2,68.27 325.6,66.8C328,65.33 331.2,64.27 333.6,62.8C336,61.33 338.27,58.93 340,58C341.73,57.07 342.4,58.4 344,57.2C345.6,56 348.1,53 349.6,50.8C351.1,48.6 351.98,45.6 353,44C354.02,42.4 354.78,41.12 355.7,41.2C356.62,41.28 357.65,42.9 358.5,44.5C359.35,46.1 359.62,47.88 360.8,50.8C361.98,53.72 364,59.33 365.6,62C367.2,64.67 368.67,66.05 370.4,66.8C372.13,67.55 374.4,66.1 376,66.5C377.6,66.9 378.67,67.28 380,69.2C381.33,71.12 382.92,74.2 384,78C385.08,81.8 385.83,88.42 386.5,92C387.17,95.58 387.4,97.25 388,99.5C388.6,101.75 389,102.98 390.1,105.5C391.2,108.02 393.1,111.83 394.6,114.6C396.1,117.37 397.6,119.73 399.1,122.1C400.6,124.47 402.22,126.55 403.6,128.8C404.98,131.05 406.27,133.97 407.4,135.6C408.53,137.23 409.27,138.15 410.4,138.6C411.53,139.05 413.07,137.92 414.2,138.3C415.33,138.68 416.23,140.4 417.2,140.9C418.17,141.4 413.53,141.23 420,141.3C426.47,141.37 450,141.3 456,141.3" stroke="#1f861f" stroke-width="1.1" fill="none"/>
</g>
<clipPath id="chb"><rect x="255.9" y="144.6" width="200.3" height="52.7"/></clipPath>
<g clip-path="url(#chb)">
<path d="M261.8,187.4C262.67,186.38 265.13,183.43 267,181.3C268.87,179.17 270.73,176.72 273,174.6C275.27,172.48 278.33,169.98 280.6,168.6C282.87,167.22 284.35,167.18 286.6,166.3C288.85,165.42 291.85,164.3 294.1,163.3C296.35,162.3 298.1,161.55 300.1,160.3C302.1,159.05 304.1,156.93 306.1,155.8C308.1,154.67 310.08,154.13 312.1,153.5C314.12,152.87 316.18,152.62 318.2,152C320.22,151.38 322.2,150.35 324.2,149.8C326.2,149.25 327.7,149 330.2,148.7C332.7,148.4 336.2,148.07 339.2,148C342.2,147.93 345.73,148.18 348.2,148.3C350.67,148.42 350.53,148.45 354,148.7C357.47,148.95 363.48,149.62 369,149.8C374.52,149.98 382.58,149.3 387.1,149.8C391.62,150.3 393.35,151.8 396.1,152.8C398.85,153.8 401.1,154.68 403.6,155.8C406.1,156.92 408.58,158.38 411.1,159.5C413.62,160.62 416.18,161.48 418.7,162.5C421.22,163.52 423.7,164.33 426.2,165.6C428.7,166.87 431.2,168.6 433.7,170.1C436.2,171.6 438.45,172.73 441.2,174.6C443.95,176.47 448.7,180.18 450.2,181.3" stroke="#ebb84c" stroke-width="1.1" stroke-dasharray="3,1.8" fill="none"/>
<path d="M261.8,185.1C262.67,184.22 265.13,181.68 267,179.8C268.87,177.92 270.73,175.8 273,173.8C275.27,171.8 278.08,169.68 280.6,167.8C283.12,165.92 285.6,164.13 288.1,162.5C290.6,160.87 293.1,159.45 295.6,158C298.1,156.55 300.85,155.05 303.1,153.8C305.35,152.55 307.35,151.25 309.1,150.5C310.85,149.75 312.08,149.5 313.6,149.3C315.12,149.1 316.68,149.1 318.2,149.3C319.72,149.5 321.2,150.55 322.7,150.5C324.2,150.45 325.45,149.37 327.2,149C328.95,148.63 330.95,148.55 333.2,148.3C335.45,148.05 338.2,147.5 340.7,147.5C343.2,147.5 345.98,148.05 348.2,148.3C350.42,148.55 351.53,148.75 354,149C356.47,149.25 360.25,149.75 363,149.8C365.75,149.85 367.73,149.3 370.5,149.3C373.27,149.3 376.83,149.72 379.6,149.8C382.37,149.88 384.85,149.48 387.1,149.8C389.35,150.12 391.1,150.95 393.1,151.7C395.1,152.45 396.85,153.25 399.1,154.3C401.35,155.35 404.08,156.75 406.6,158C409.12,159.25 411.68,160.42 414.2,161.8C416.72,163.18 419.2,164.67 421.7,166.3C424.2,167.93 426.7,169.72 429.2,171.6C431.7,173.48 434.2,175.35 436.7,177.6C439.2,179.85 441.95,182.97 444.2,185.1C446.45,187.23 449.2,189.52 450.2,190.4" stroke="#ebb84c" stroke-width="1.1" fill="none"/>
</g>
<path d="M255.9,141.7H255.9V36.6H456.2" stroke="#262626" stroke-width="1.15" fill="none"/>
<path d="M456.2,36.6V141.7" stroke="#262626" stroke-width="1.15" fill="none"/>
<path d="M255.4,141.7H456.7" stroke="#595959" stroke-width="1.3" fill="none"/>
<rect x="255.9" y="144.6" width="200.3" height="52.7" fill="none" stroke="#262626" stroke-width="1.15"/>
<path d="M264.5,36.6v2.2M264.5,141.7v-2.2M295,36.6v2.2M295,141.7v-2.2M325.5,36.6v2.2M325.5,141.7v-2.2M356,36.6v2.2M356,141.7v-2.2M386.5,36.6v2.2M386.5,141.7v-2.2M417,36.6v2.2M417,141.7v-2.2M447.5,36.6v2.2M447.5,141.7v-2.2" stroke="#262626" stroke-width="1" fill="none"/>
<path d="M264.5,144.6v2.2M264.5,197.3v-2.2M295,144.6v2.2M295,197.3v-2.2M325.5,144.6v2.2M325.5,197.3v-2.2M356,144.6v2.2M356,197.3v-2.2M386.5,144.6v2.2M386.5,197.3v-2.2M417,144.6v2.2M417,197.3v-2.2M447.5,144.6v2.2M447.5,197.3v-2.2" stroke="#262626" stroke-width="1" fill="none"/>
<path d="M255.9,141.2h2.2M456.2,141.2h-2.2M255.9,121.3h2.2M456.2,121.3h-2.2M255.9,101.4h2.2M456.2,101.4h-2.2M255.9,81.5h2.2M456.2,81.5h-2.2M255.9,61.6h2.2M456.2,61.6h-2.2M255.9,41.7h2.2M456.2,41.7h-2.2" stroke="#262626" stroke-width="1" fill="none"/>
<path d="M255.9,149h2.2M456.2,149h-2.2M255.9,161.06h2.2M456.2,161.06h-2.2M255.9,173.12h2.2M456.2,173.12h-2.2M255.9,185.19h2.2M456.2,185.19h-2.2M255.9,197.25h2.2M456.2,197.25h-2.2" stroke="#262626" stroke-width="1" fill="none"/>
<text x="265.3" y="207.3" font-size="8.5" text-anchor="middle" font-weight="normal" font-family='"Liberation Sans", sans-serif' fill="#000" >-300</text>
<text x="295.8" y="207.3" font-size="8.5" text-anchor="middle" font-weight="normal" font-family='"Liberation Sans", sans-serif' fill="#000" >-200</text>
<text x="326.3" y="207.3" font-size="8.5" text-anchor="middle" font-weight="normal" font-family='"Liberation Sans", sans-serif' fill="#000" >-100</text>
<text x="356.8" y="207.3" font-size="8.5" text-anchor="middle" font-weight="normal" font-family='"Liberation Sans", sans-serif' fill="#000" >0</text>
<text x="387.3" y="207.3" font-size="8.5" text-anchor="middle" font-weight="normal" font-family='"Liberation Sans", sans-serif' fill="#000" >100</text>
<text x="417.8" y="207.3" font-size="8.5" text-anchor="middle" font-weight="normal" font-family='"Liberation Sans", sans-serif' fill="#000" >200</text>
<text x="448.3" y="207.3" font-size="8.5" text-anchor="middle" font-weight="normal" font-family='"Liberation Sans", sans-serif' fill="#000" >300</text>
<text x="0" y="0" font-size="9.2" text-anchor="middle" font-weight="normal" font-family='"Liberation Sans", sans-serif' fill="#000" transform="translate(357.2,219.8) scale(1.07,1)" >Frequency (GHz)</text>
<clipPath id="ctb"><rect x="256.6" y="244.6" width="200.2" height="105.4"/></clipPath>
<g clip-path="url(#ctb)">
<path d="M257,349.6C258.05,349.58 264.54,349.75 266,349.4C267.46,349.05 268.83,347.1 269.5,346.6C270.17,346.1 270.92,345.02 271.7,345.1C272.48,345.18 275.15,347.39 276.2,347.3C277.25,347.21 279.57,344.56 280.7,344.3C281.83,344.04 285.04,345.31 285.9,345.1C286.76,344.89 287.4,342.42 288.1,342.5C288.8,342.58 291.09,345.22 291.9,345.8C292.7,346.38 293.79,347.12 295,347.5C296.21,347.88 301.02,349.16 302.3,349.1C303.58,349.04 305.22,347.65 306,347C306.78,346.35 308.29,344.17 309,343.5C309.71,342.83 311.39,341.21 312.1,341.3C312.81,341.39 314.49,345.51 315.1,344.3C315.71,343.09 316.79,331.42 317.3,330.9C317.81,330.38 318.98,338.24 319.5,339.8C320.02,341.36 321.1,345.61 321.8,344.3C322.5,342.99 324.81,330.16 325.5,328.6C326.19,327.04 327.18,329.59 327.7,330.9C328.22,332.21 329.3,340.32 330,339.8C330.7,339.28 333.01,326.4 333.7,326.4C334.39,326.4 335.46,337.28 335.9,339.8C336.34,342.32 336.96,347.39 337.5,348C338.04,348.61 339.89,346.31 340.5,345C341.11,343.69 342.23,339.48 342.7,336.8C343.17,334.12 344.1,324.69 344.5,322C344.9,319.31 345.7,312.84 346.1,313.7C346.5,314.56 347.5,325.75 347.9,329.4C348.3,333.05 349.08,344.35 349.5,345C349.92,345.65 351.09,338.15 351.5,335C351.91,331.85 352.64,323.25 353,318C353.36,312.75 354.25,296.07 354.6,290C354.95,283.93 355.7,269.73 356,266C356.3,262.27 356.9,258 357.2,258C357.5,258 358.23,261.1 358.6,266C358.97,270.9 360.03,291.95 360.4,300C360.77,308.05 361.5,329.63 361.8,335C362.1,340.37 362.69,345.88 363,346C363.31,346.12 364.15,339.27 364.5,336C364.85,332.73 365.63,321.55 366,318C366.37,314.45 367.31,305.37 367.7,305.6C368.08,305.83 368.92,316.22 369.3,320C369.69,323.78 370.59,335.34 371,338C371.41,340.66 372.22,342.45 372.8,342.8C373.38,343.15 375.21,341.52 376,341C376.79,340.48 378.9,337.95 379.6,338.3C380.3,338.65 381.37,343.1 382,344C382.63,344.9 384.18,345.59 385,346C385.82,346.41 387.83,347.21 389,347.5C390.17,347.79 393.13,348.32 395,348.5C396.87,348.68 402.08,348.91 405,349C407.92,349.09 413.99,349.24 420,349.3C426.01,349.36 452.24,349.48 456.5,349.5" stroke="#3c3c3c" stroke-width="1.0" stroke-dasharray="3.4,2" fill="none"/>
<path d="M257,349.6C259.15,349.6 272.55,349.87 275.4,349.6C278.25,349.33 280.17,347.49 281.4,347.3C282.62,347.11 285.02,348.08 285.9,348C286.77,347.92 288.02,347.17 288.9,346.6C289.77,346.03 292.44,343.37 293.4,343.1C294.36,342.83 296.06,343.6 297.1,344.3C298.14,345 301.17,348.75 302.3,349.1C303.43,349.45 305.66,347.94 306.8,347.3C307.94,346.66 311.05,343.78 312.1,343.6C313.15,343.43 314.84,345.29 315.8,345.8C316.76,346.31 319.25,348.78 320.3,348C321.35,347.22 324.02,340.03 324.8,339.1C325.58,338.17 326.39,339.57 327,340C327.61,340.43 329.22,343.34 330,342.8C330.78,342.26 332.82,334.7 333.7,335.4C334.57,336.1 336.62,348.19 337.5,348.8C338.38,349.41 340.56,341.83 341.2,340.6C341.84,339.38 342.3,339.62 343,338.3C343.7,336.98 346.46,329.1 347.2,329.3C347.94,329.5 348.9,338.05 349.3,340C349.7,341.95 350.29,346.23 350.6,346C350.92,345.77 351.64,343.06 352,338C352.36,332.94 353.27,311.51 353.7,302.6C354.13,293.69 355.29,267.82 355.7,261.6C356.11,255.38 356.86,249.3 357.2,249.3C357.54,249.3 358.19,255.38 358.6,261.6C359.01,267.82 360.31,294.27 360.7,302.6C361.08,310.93 361.63,327.82 361.9,333C362.17,338.18 362.74,345.48 363,347C363.26,348.52 363.86,347.05 364.1,346C364.35,344.95 364.81,341.35 365.1,338C365.39,334.65 366.3,323.31 366.6,317.3C366.9,311.29 367.43,286.5 367.7,286.5C367.97,286.5 368.61,311.06 368.9,317.3C369.19,323.54 369.9,336.51 370.2,340C370.5,343.49 370.85,346.44 371.5,347.2C372.15,347.96 374.86,346.58 375.8,346.5C376.75,346.42 378.9,346.3 379.6,346.5C380.3,346.7 381.29,348.81 381.8,348.2C382.31,347.59 383.48,341.5 384,341.3C384.52,341.1 385.68,346.32 386.3,346.5C386.92,346.68 388.69,342.72 389.3,342.8C389.91,342.88 390.99,347.02 391.5,347.2C392.01,347.38 393.18,344.21 393.7,344.3C394.22,344.39 395.3,347.66 396,348C396.7,348.34 398.92,347.13 399.7,347.2C400.48,347.27 402.23,348.85 402.7,348.6C403.17,348.36 403.31,345.17 403.7,345.1C404.08,345.03 405.48,347.84 406,348C406.52,348.16 407.68,346.76 408.2,346.5C408.72,346.24 409.88,346.06 410.5,345.8C411.12,345.54 412.89,344.04 413.5,344.3C414.11,344.56 415.18,347.74 415.7,348C416.22,348.26 417.38,346.41 418,346.5C418.62,346.59 420.3,348.62 421,348.8C421.7,348.98 422.95,347.98 424,348C425.05,348.02 427.55,348.84 430,349C432.45,349.16 441.91,349.34 445,349.4C448.09,349.46 455.16,349.49 456.5,349.5" stroke="#3246b0" stroke-width="1.05" fill="none" stroke-linejoin="round"/>
</g>
<rect x="256.6" y="244.6" width="200.2" height="105.4" fill="none" stroke="#262626" stroke-width="1.15"/>
<path d="M267.44,244.6v2.2M267.44,350v-2.2M289.78,244.6v2.2M289.78,350v-2.2M312.12,244.6v2.2M312.12,350v-2.2M334.46,244.6v2.2M334.46,350v-2.2M356.8,244.6v2.2M356.8,350v-2.2M379.14,244.6v2.2M379.14,350v-2.2M401.48,244.6v2.2M401.48,350v-2.2M423.82,244.6v2.2M423.82,350v-2.2M446.16,244.6v2.2M446.16,350v-2.2" stroke="#262626" stroke-width="1" fill="none"/>
<path d="M256.6,350h2.2M456.8,350h-2.2M256.6,329.9h2.2M456.8,329.9h-2.2M256.6,309.8h2.2M456.8,309.8h-2.2M256.6,289.7h2.2M456.8,289.7h-2.2M256.6,269.6h2.2M456.8,269.6h-2.2M256.6,249.5h2.2M456.8,249.5h-2.2" stroke="#262626" stroke-width="1" fill="none"/>
<text x="268.04" y="361.8" font-size="8.5" text-anchor="middle" font-weight="normal" font-family='"Liberation Sans", sans-serif' fill="#000" >-80</text>
<text x="290.38" y="361.8" font-size="8.5" text-anchor="middle" font-weight="normal" font-family='"Liberation Sans", sans-serif' fill="#000" >-60</text>
<text x="312.72" y="361.8" font-size="8.5" text-anchor="middle" font-weight="normal" font-family='"Liberation Sans", sans-serif' fill="#000" >-40</text>
<text x="335.06" y="361.8" font-size="8.5" text-anchor="middle" font-weight="normal" font-family='"Liberation Sans", sans-serif' fill="#000" >-20</text>
<text x="357.4" y="361.8" font-size="8.5" text-anchor="middle" font-weight="normal" font-family='"Liberation Sans", sans-serif' fill="#000" >0</text>
<text x="379.74" y="361.8" font-size="8.5" text-anchor="middle" font-weight="normal" font-family='"Liberation Sans", sans-serif' fill="#000" >20</text>
<text x="402.08" y="361.8" font-size="8.5" text-anchor="middle" font-weight="normal" font-family='"Liberation Sans", sans-serif' fill="#000" >40</text>
<text x="424.42" y="361.8" font-size="8.5" text-anchor="middle" font-weight="normal" font-family='"Liberation Sans", sans-serif' fill="#000" >60</text>
<text x="446.76" y="361.8" font-size="8.5" text-anchor="middle" font-weight="normal" font-family='"Liberation Sans", sans-serif' fill="#000" >80</text>
<text x="0" y="0" font-size="9.2" text-anchor="middle" font-weight="normal" font-family='"Liberation Sans", sans-serif' fill="#000" transform="translate(357.7,372.8) scale(1.08,1)" >Time (ps)</text>
<clipPath id="cpc"><rect x="482.1" y="36.6" width="201" height="105.1"/></clipPath>
<g clip-path="url(#cpc)">
<path d="M524.5,141.2 L524.5,139 L525.39,137.16 L526.21,137.99 L526.99,138.6 L527.97,138.18 L528.79,136.78 L529.7,137.7 L530.34,137.41 L530.91,136.49 L531.58,136.36 L532.22,137.76 L532.84,137.54 L533.44,138.85 L534.3,137.88 L534.92,137.75 L535.66,137.26 L536.48,136.37 L537.16,135.32 L538.09,138.35 L539,135.13 L539.89,137.9 L540.81,135.9 L541.32,138.29 L542.29,135.61 L542.92,137.8 L543.49,137.21 L544.38,136.64 L544.95,134.18 L545.85,137.27 L546.79,135.21 L547.68,134.82 L548.63,134.13 L549.55,136.8 L550.4,135.12 L551.27,135.47 L552.21,134.78 L552.84,136.33 L553.41,134.96 L553.94,135.04 L554.51,134.85 L555.26,134.52 L556.19,137.27 L557.11,134.72 L557.9,133.56 L558.82,135.08 L559.52,131.75 L560.06,133.51 L560.88,136.9 L561.69,133.11 L562.65,135.07 L563.64,133.97 L564.38,131.65 L564.9,132.67 L565.71,134.88 L566.64,134.68 L567.38,133.7 L568.27,135.56 L568.99,134.28 L569.76,131.82 L570.41,131.8 L571.11,133.76 L571.75,133.74 L572.73,132.84 L573.63,134.81 L574.29,135.01 L575.08,133 L575.97,136.59 L576.83,131.56 L577.61,136.57 L578.26,136.85 L578.85,131.46 L579.66,133.06 L580.55,131.65 L581.36,133.42 L582.17,133.02 L582.97,133.18 L583.58,133.31 L584.3,132.84 L584.85,136.14 L585.37,132.88 L586.33,133.64 L587.01,132.81 L587.91,134.31 L588.54,135.75 L589.25,135.73 L589.96,134.12 L590.93,137.23 L591.71,137.36 L592.27,133.57 L593.06,133.16 L593.78,137.63 L594.48,134.93 L595.45,133.25 L596.18,135.98 L596.74,134.99 L597.34,137.27 L597.85,137.96 L598.69,137.52 L599.67,137.74 L600.61,137.65 L601.12,135.27 L601.74,135.31 L602.33,138.11 L603.22,135.59 L604.15,135.66 L604.69,136.12 L605.54,136.84 L606.51,137.69 L607.49,136.16 L608,138.64 L608.82,135.99 L609.36,137.75 L610.23,138.3 L611.16,137.35 L611.69,137.78 L612.48,137.63 L613.31,138.58 L614.21,138 L615.04,137.31 L615.74,138.06 L616.64,136.59 L617.53,137.71 L618.18,139.11 L619.16,137.49 L620.08,138.51 L620.88,136.95 L621.8,137.96 L622.45,138.42 L623.39,138.6 L624.24,138.12 L625.18,137.72 L625.83,139.57 L626.46,138.65 L627.25,137.83 L628.19,139.55 L629.11,137.95 L630.05,138.5 L630.68,137.96 L631.59,138.34 L632.54,139.05 L633.08,138.66 L633.98,139.38 L634.86,137.99 L635.48,138.64 L636.31,138.93 L636.92,139.35 L637.79,138.36 L638.52,139.69 L639.43,138.44 L640.04,138.81 L640.99,138.28 L641.75,139.03 L642.55,139.56 L643.14,139.58 L643.99,139.27 L644.78,139.21 L645.5,141.2Z" fill="#b3d8b3"/>
<path d="M525.3,140.06 L524.68,139.06 L525.28,131.68 L525.88,139.57 L525.77,139.43 L526.37,135.57 L526.97,138.56 L526.41,139.67 L527.01,133.65 L527.61,139.64 L527.3,138.66 L528.9,138.85 L528.94,139.06 L529.54,132.9 L530.14,137.96 L530.04,137.89 L530.64,134.32 L531.24,137.78 L531.45,139.42 L532.05,134.12 L532.65,139.05 L532.46,139.72 L534.06,139.89 L533.88,137.3 L534.48,131.83 L535.08,138.29 L535.46,139.16 L536.06,133.44 L536.66,137.82 L536.32,136.82 L536.92,134.02 L537.52,138.62 L537.62,138.74 L539.22,138.59 L539.49,138.02 L540.09,129.59 L540.69,137.87 L540.23,136.27 L540.83,132.16 L541.43,138.45 L541.3,137.99 L541.9,132.07 L542.5,136.39 L542.78,137.63 L544.38,137.78 L544.2,136.65 L544.8,127.28 L545.4,136.85 L545.8,138.31 L546.4,136.04 L547,136.33 L546.91,137.73 L547.51,127.31 L548.11,136.76 L547.94,137.57 L549.54,139.23 L549.5,138.14 L550.1,130.22 L550.7,136.9 L550.55,138.01 L551.15,134.36 L551.75,136.11 L551.61,137.76 L552.21,125.57 L552.81,138.34 L553.1,136.72 L554.7,138.7 L554.96,134.88 L555.56,123.21 L556.16,137.77 L555.85,134.64 L556.45,134.68 L557.05,134.98 L557.08,136.87 L557.68,126.76 L558.28,134.94 L558.26,137.72 L559.86,137.27 L559.73,137.88 L560.33,128.64 L560.93,135.18 L561.07,134.44 L561.67,133.89 L562.27,136.96 L562.13,136.9 L562.73,129.02 L563.33,134.5 L563.42,137.99 L565.02,138.53 L565.06,134.07 L565.66,126.99 L566.26,137.47 L566.44,134.05 L567.04,134.25 L567.64,135.04 L567.19,136.68 L567.79,125.09 L568.39,136.81 L568.58,138.34 L570.18,137.81 L570.47,133.83 L571.07,119.23 L571.67,137.47 L571.25,137.65 L571.85,127.7 L572.45,134.7 L572.39,137.83 L572.99,119.45 L573.59,134.35 L573.74,137.89 L575.34,138.55 L575.14,135.62 L575.74,121.19 L576.34,137.11 L576.49,136.99 L577.09,127.75 L577.69,135.46 L577.47,134.63 L578.07,128.46 L578.67,134.89 L578.9,138.43 L580.5,138.81 L580.34,135.93 L580.94,124.2 L581.54,136.87 L581.53,135.11 L582.13,130.45 L582.73,134.67 L582.86,137.84 L583.46,128.81 L584.06,135.09 L584.06,137.93 L585.66,136.98 L585.48,136.87 L586.08,123.14 L586.68,134.85 L587.02,138.21 L587.62,131.98 L588.22,134.72 L587.96,137.29 L588.56,123.2 L589.16,137.6 L589.22,136.98 L590.82,138.29 L590.7,136.26 L591.3,128.61 L591.9,138.43 L592.01,136.66 L592.61,133.03 L593.21,138.08 L593.24,135.55 L593.84,125.31 L594.44,137.45 L594.38,137.68 L595.98,138.52 L596.15,135.86 L596.75,132.46 L597.35,135.59 L597.16,137.08 L597.76,133.47 L598.36,137.05 L598.06,138.13 L598.66,125.68 L599.26,138.26 L599.54,139.45 L601.14,139.11 L601.34,138.73 L601.94,133.68 L602.54,136.97 L602.17,137.34 L602.77,136.82 L603.37,137.4 L603.47,138.84 L604.07,129.41 L604.67,136.71 L604.7,138.43 L606.3,139.77 L606.16,137.97 L606.76,131.54 L607.36,138.54 L607.29,138.97 L607.89,135.65 L608.49,137.83 L608.8,138.01 L609.4,134.27 L610,137.59 L609.86,139.74 L611.46,138.58 L611.72,138.58 L612.32,133.43 L612.92,137.64 L612.65,137.5 L613.25,136.41 L613.85,137.86 L613.69,138.89 L614.29,134.6 L614.89,138.68 L615.02,138.67 L616.62,138.94 L616.87,138.06 L617.47,132.29 L618.07,139.62 L617.81,137.97 L618.41,135.1 L619.01,139.28 L618.9,139.11 L619.5,133.56 L620.1,138.8 L620.18,140.2 L621.78,139.71 L621.83,139.64 L622.43,136.73 L623.03,138.19 L623.1,138.84 L623.7,135.85 L624.3,138.55 L624.29,139.9 L624.89,133.37 L625.49,138.89 L625.34,140.07 L626.94,139.57 L626.87,138.55 L627.47,135.11 L628.07,139.03 L628,139.37 L628.6,137.47 L629.2,138.57 L629.15,139.08 L629.75,136.25 L630.35,139.88 L630.5,139.8 L632.1,139.4 L632.15,139.44 L632.75,136.61 L633.35,139.34 L633.1,139.94 L633.7,138.75 L634.3,139.71 L634.37,139.8 L634.97,136.67 L635.57,140.02 L635.66,139.94 L637.26,139.64 L637.36,139.3 L637.96,135.87 L638.56,139.91 L638.55,139.46 L639.15,138.11 L639.75,139.37 L639.56,139.88 L640.16,136.85 L640.76,139.91 L640.82,140.04 L642.42,140.17 L642.15,139.77 L642.75,137.91 L643.35,139.1 L642.83,139.59 L643.43,138 L644.03,139.86 L644.06,139.25 L644.66,137.05 L645.26,140.03 L644.7,140.5" stroke="#99cb99" stroke-width="1.1" fill="none" stroke-linejoin="round"/>
<path d="M528.1,141.2V127M533.26,141.2V123.6M538.42,141.2V112M543.58,141.2V87.6M548.74,141.2V77.2M553.9,141.2V59.6M559.06,141.2V57.2M564.22,141.2V62M569.38,141.2V54M574.54,141.2V49.2M579.7,141.2V55.6M584.86,141.2V54M590.02,141.2V42.8M595.18,141.2V50M600.34,141.2V63.6M605.5,141.2V84.4M610.66,141.2V84.4M615.82,141.2V92M620.98,141.2V104M626.14,141.2V116.3M631.3,141.2V124M636.46,141.2V130M641.62,141.2V134.5" stroke="#98c998" stroke-width="1.6" fill="none"/>
<path d="M528.1,141.7V135.52M533.26,141.7V136.6M538.42,141.7V137.54M543.58,141.7V136.73M548.74,141.7V136.6M553.9,141.7V135.86M559.06,141.7V137.43M564.22,141.7V137.14M569.38,141.7V135.3M574.54,141.7V135.85M579.7,141.7V137.31M584.86,141.7V136.86M590.02,141.7V136.82M595.18,141.7V136.01M600.34,141.7V136.16M605.5,141.7V135.58M610.66,141.7V135.65M615.82,141.7V136.41M620.98,141.7V135.85M626.14,141.7V135.84M631.3,141.7V135.8M636.46,141.7V136.51M641.62,141.7V135.74" stroke="#fff" stroke-width="0.9" fill="none" opacity="0.8"/>
<path d="M482.5,141.3C486.25,141.28 500.62,141.4 505,141.2C509.38,141 507.63,140.55 508.8,140.1C509.97,139.65 510.87,139 512,138.5C513.13,138 514.63,137.45 515.6,137.1C516.57,136.75 517.05,136.9 517.8,136.4C518.55,135.9 519.22,135.48 520.1,134.1C520.98,132.72 521.85,130.35 523.1,128.1C524.35,125.85 526.1,122.73 527.6,120.6C529.1,118.47 530.6,117.43 532.1,115.3C533.6,113.17 535.37,109.52 536.6,107.8C537.83,106.08 538.73,105.5 539.5,105C540.27,104.5 540.42,105.97 541.2,104.8C541.98,103.63 543.33,100.63 544.2,98C545.07,95.37 545.78,91.07 546.4,89C547.02,86.93 547.15,87.17 547.9,85.6C548.65,84.03 549.77,80.97 550.9,79.6C552.03,78.23 553.32,77.9 554.7,77.4C556.08,76.9 557.82,76.98 559.2,76.6C560.58,76.22 562,76.85 563,75.1C564,73.35 564.45,68.6 565.2,66.1C565.95,63.6 566.75,62.37 567.5,60.1C568.25,57.83 569.08,54.77 569.7,52.5C570.32,50.23 570.7,48.12 571.2,46.5C571.7,44.88 572.07,42.05 572.7,42.8C573.33,43.55 574.25,48.37 575,51C575.75,53.63 576.45,56.47 577.2,58.6C577.95,60.73 578.65,63.13 579.5,63.8C580.35,64.47 581.33,62.3 582.3,62.6C583.27,62.9 584.3,64.47 585.3,65.6C586.3,66.73 587.42,68 588.3,69.4C589.18,70.8 589.83,72.23 590.6,74C591.37,75.77 592.13,78.23 592.9,80C593.67,81.77 594.32,83.1 595.2,84.6C596.08,86.1 597.18,87.25 598.2,89C599.22,90.75 600.28,93.08 601.3,95.1C602.32,97.12 603.42,99.47 604.3,101.1C605.18,102.73 605.58,104.52 606.6,104.9C607.62,105.28 609.02,103.13 610.4,103.4C611.78,103.67 613.38,105.35 614.9,106.5C616.42,107.65 618.37,108.67 619.5,110.3C620.63,111.93 620.82,114.53 621.7,116.3C622.58,118.07 623.65,120.13 624.8,120.9C625.95,121.67 627.33,120.78 628.6,120.9C629.87,121.02 631.38,121.85 632.4,121.6C633.42,121.35 633.95,119.27 634.7,119.4C635.45,119.53 636.02,120.63 636.9,122.4C637.78,124.17 639.12,127.98 640,130C640.88,132.02 641.32,133.75 642.2,134.5C643.08,135.25 644.53,133.73 645.3,134.5C646.07,135.27 646.02,137.98 646.8,139.1C647.58,140.22 643.97,140.83 650,141.2C656.03,141.57 677.5,141.28 683,141.3" stroke="#4d4d4d" stroke-width="1.1" stroke-dasharray="3.8,2.2" fill="none"/>
<path d="M482.8,141.3C487.52,141.32 505.63,141.72 511.1,141.4C516.57,141.08 513.85,139.87 515.6,139.4C517.35,138.93 520.1,139.48 521.6,138.6C523.1,137.72 523.6,135.85 524.6,134.1C525.6,132.35 526.6,129.85 527.6,128.1C528.6,126.35 529.6,125.1 530.6,123.6C531.6,122.1 532.6,121.1 533.6,119.1C534.6,117.1 535.6,114.12 536.6,111.6C537.6,109.08 538.58,106.43 539.6,104C540.62,101.57 541.77,99.67 542.7,97C543.63,94.33 544.45,90.65 545.2,88C545.95,85.35 546.5,83.2 547.2,81.1C547.9,79 548.4,76.9 549.4,75.4C550.4,73.9 551.82,73.4 553.2,72.1C554.58,70.8 556.2,69.1 557.7,67.6C559.2,66.1 560.7,64.6 562.2,63.1C563.7,61.6 565.45,60.37 566.7,58.6C567.95,56.83 568.45,54.27 569.7,52.5C570.95,50.73 572.82,48.37 574.2,48C575.58,47.63 577.03,49.52 578,50.3C578.97,51.08 579.17,52.05 580,52.7C580.83,53.35 581.87,55.22 583,54.2C584.13,53.18 585.65,48.67 586.8,46.6C587.95,44.53 589.02,42.17 589.9,41.8C590.78,41.43 591.22,43.22 592.1,44.4C592.98,45.58 594.18,47.77 595.2,48.9C596.22,50.03 597.32,50.07 598.2,51.2C599.08,52.33 599.73,53.17 600.5,55.7C601.27,58.23 602.05,62.6 602.8,66.4C603.55,70.2 604.25,75.35 605,78.5C605.75,81.65 606.15,84.42 607.3,85.3C608.45,86.18 610.63,83.67 611.9,83.8C613.17,83.93 614.15,85.23 614.9,86.1C615.65,86.97 615.77,87.25 616.4,89C617.03,90.75 617.93,94.07 618.7,96.6C619.47,99.13 620.23,101.42 621,104.2C621.77,106.98 622.55,110.52 623.3,113.3C624.05,116.08 624.62,119 625.5,120.9C626.38,122.8 627.33,123.95 628.6,124.7C629.87,125.45 631.83,124.9 633.1,125.4C634.37,125.9 635.18,126.43 636.2,127.7C637.22,128.97 638.2,131.35 639.2,133C640.2,134.65 640.93,136.33 642.2,137.6C643.47,138.87 645.53,140 646.8,140.6C648.07,141.2 643.77,141.08 649.8,141.2C655.83,141.32 677.47,141.28 683,141.3" stroke="#1f861f" stroke-width="1.1" fill="none"/>
</g>
<clipPath id="chc"><rect x="482.1" y="144.6" width="201" height="52.7"/></clipPath>
<g clip-path="url(#chc)">
<path d="M510.3,196.8C511.18,196.1 513.72,194.17 515.6,192.6C517.48,191.03 519.6,189.65 521.6,187.4C523.6,185.15 525.6,181.87 527.6,179.1C529.6,176.33 531.33,173.57 533.6,170.8C535.87,168.03 538.68,164.75 541.2,162.5C543.72,160.25 546.2,158.92 548.7,157.3C551.2,155.68 553.7,154.05 556.2,152.8C558.7,151.55 561.2,150.63 563.7,149.8C566.2,148.97 568.95,148.05 571.2,147.8C573.45,147.55 575.73,148.08 577.2,148.3C578.67,148.52 578.52,148.85 580,149.1C581.48,149.35 584.08,149.3 586.1,149.8C588.12,150.3 589.83,151.22 592.1,152.1C594.37,152.98 597.17,153.97 599.7,155.1C602.23,156.23 604.77,157.37 607.3,158.9C609.83,160.43 612.37,162.52 614.9,164.3C617.43,166.08 619.97,167.72 622.5,169.6C625.03,171.48 627.57,173.45 630.1,175.6C632.63,177.75 635.17,180.08 637.7,182.5C640.23,184.92 643.15,187.7 645.3,190.1C647.45,192.5 649.72,195.77 650.6,196.9" stroke="#ebb84c" stroke-width="1.1" stroke-dasharray="3,1.8" fill="none"/>
<path d="M499,196.8C500.02,195.98 503.08,193.4 505.1,191.9C507.12,190.4 508.85,189.32 511.1,187.8C513.35,186.28 516.1,184.38 518.6,182.8C521.1,181.22 523.85,179.67 526.1,178.3C528.35,176.93 530.1,175.6 532.1,174.6C534.1,173.6 536.08,173.55 538.1,172.3C540.12,171.05 542.18,168.47 544.2,167.1C546.22,165.73 548.45,165.23 550.2,164.1C551.95,162.97 553.2,161.82 554.7,160.3C556.2,158.78 557.7,155.68 559.2,155C560.7,154.32 561.95,156.75 563.7,156.2C565.45,155.65 567.7,152.45 569.7,151.7C571.7,150.95 573.98,152.13 575.7,151.7C577.42,151.27 578.27,149.48 580,149.1C581.73,148.72 584.08,149.03 586.1,149.4C588.12,149.77 589.83,150.55 592.1,151.3C594.37,152.05 597.17,152.88 599.7,153.9C602.23,154.92 605.4,156.57 607.3,157.4C609.2,158.23 609.83,158.02 611.1,158.9C612.37,159.78 613.5,161.55 614.9,162.7C616.3,163.85 617.73,164.97 619.5,165.8C621.27,166.63 623.23,166.82 625.5,167.7C627.77,168.58 630.57,169.9 633.1,171.1C635.63,172.3 638.17,173.52 640.7,174.9C643.23,176.28 645.77,177.77 648.3,179.4C650.83,181.03 653.37,182.67 655.9,184.7C658.43,186.73 661.35,189.57 663.5,191.6C665.65,193.63 667.92,196.02 668.8,196.9" stroke="#ebb84c" stroke-width="1.1" fill="none"/>
</g>
<path d="M482.1,141.7H482.1V36.6H683.1" stroke="#262626" stroke-width="1.15" fill="none"/>
<path d="M683.1,36.6V141.7" stroke="#262626" stroke-width="1.15" fill="none"/>
<path d="M481.6,141.7H683.6" stroke="#595959" stroke-width="1.3" fill="none"/>
<rect x="482.1" y="144.6" width="201" height="52.7" fill="none" stroke="#262626" stroke-width="1.15"/>
<path d="M490.9,36.6v2.2M490.9,141.7v-2.2M521.4,36.6v2.2M521.4,141.7v-2.2M551.9,36.6v2.2M551.9,141.7v-2.2M582.4,36.6v2.2M582.4,141.7v-2.2M612.9,36.6v2.2M612.9,141.7v-2.2M643.4,36.6v2.2M643.4,141.7v-2.2M673.9,36.6v2.2M673.9,141.7v-2.2" stroke="#262626" stroke-width="1" fill="none"/>
<path d="M490.9,144.6v2.2M490.9,197.3v-2.2M521.4,144.6v2.2M521.4,197.3v-2.2M551.9,144.6v2.2M551.9,197.3v-2.2M582.4,144.6v2.2M582.4,197.3v-2.2M612.9,144.6v2.2M612.9,197.3v-2.2M643.4,144.6v2.2M643.4,197.3v-2.2M673.9,144.6v2.2M673.9,197.3v-2.2" stroke="#262626" stroke-width="1" fill="none"/>
<path d="M482.1,141.2h2.2M683.1,141.2h-2.2M482.1,121.3h2.2M683.1,121.3h-2.2M482.1,101.4h2.2M683.1,101.4h-2.2M482.1,81.5h2.2M683.1,81.5h-2.2M482.1,61.6h2.2M683.1,61.6h-2.2M482.1,41.7h2.2M683.1,41.7h-2.2" stroke="#262626" stroke-width="1" fill="none"/>
<path d="M482.1,149h2.2M683.1,149h-2.2M482.1,161.06h2.2M683.1,161.06h-2.2M482.1,173.12h2.2M683.1,173.12h-2.2M482.1,185.19h2.2M683.1,185.19h-2.2M482.1,197.25h2.2M683.1,197.25h-2.2" stroke="#262626" stroke-width="1" fill="none"/>
<text x="491.7" y="207.3" font-size="8.5" text-anchor="middle" font-weight="normal" font-family='"Liberation Sans", sans-serif' fill="#000" >-300</text>
<text x="522.2" y="207.3" font-size="8.5" text-anchor="middle" font-weight="normal" font-family='"Liberation Sans", sans-serif' fill="#000" >-200</text>
<text x="552.7" y="207.3" font-size="8.5" text-anchor="middle" font-weight="normal" font-family='"Liberation Sans", sans-serif' fill="#000" >-100</text>
<text x="583.2" y="207.3" font-size="8.5" text-anchor="middle" font-weight="normal" font-family='"Liberation Sans", sans-serif' fill="#000" >0</text>
<text x="613.7" y="207.3" font-size="8.5" text-anchor="middle" font-weight="normal" font-family='"Liberation Sans", sans-serif' fill="#000" >100</text>
<text x="644.2" y="207.3" font-size="8.5" text-anchor="middle" font-weight="normal" font-family='"Liberation Sans", sans-serif' fill="#000" >200</text>
<text x="674.7" y="207.3" font-size="8.5" text-anchor="middle" font-weight="normal" font-family='"Liberation Sans", sans-serif' fill="#000" >300</text>
<text x="0" y="0" font-size="9.2" text-anchor="middle" font-weight="normal" font-family='"Liberation Sans", sans-serif' fill="#000" transform="translate(583.6,219.8) scale(1.07,1)" >Frequency (GHz)</text>
<clipPath id="ctc"><rect x="482.5" y="244.6" width="200.9" height="105.4"/></clipPath>
<g clip-path="url(#ctc)">
<path d="M483,349.5C485.92,349.48 504.43,349.57 508,349.3C511.57,349.03 512.71,347.75 513.6,347.2C514.49,346.65 515.02,345.6 515.6,344.6C516.18,343.6 517.9,340.35 518.6,338.6C519.3,336.85 520.98,331.18 521.6,329.6C522.22,328.03 523.28,325.89 523.9,325.1C524.52,324.31 526.29,322.45 526.9,322.8C527.51,323.15 528.67,327.84 529.1,328.1C529.53,328.36 530.25,325.79 530.6,325C530.95,324.21 531.75,321.29 532.1,321.3C532.45,321.31 533.25,322.91 533.6,325.1C533.95,327.29 534.7,337.55 535.1,340.1C535.5,342.66 536.49,346.31 537,347C537.51,347.69 539.01,346.58 539.5,346C539.99,345.42 540.83,342.86 541.2,342C541.57,341.14 542.35,340.57 542.7,338.6C543.05,336.63 543.85,327.2 544.2,325.1C544.55,323 545.27,322.19 545.7,320.6C546.13,319.01 547.47,314.31 547.9,311.5C548.33,308.69 549.04,300.18 549.4,296.5C549.76,292.82 550.59,283.35 551,280C551.41,276.65 552.49,267.8 552.9,267.8C553.31,267.8 554.12,273.67 554.5,280C554.88,286.33 555.73,315.09 556.2,322.1C556.67,329.11 558.15,337.31 558.5,340.1C558.85,342.89 558.91,345.14 559.2,346C559.49,346.86 560.56,347.62 561,347.5C561.44,347.38 562.53,345.88 563,345C563.47,344.12 564.57,342.15 565,340C565.43,337.85 566.33,329.48 566.7,326.6C567.07,323.72 567.85,315.65 568.2,315.3C568.55,314.95 569.26,323.87 569.7,323.6C570.14,323.33 571.48,314.33 572,313C572.52,311.67 573.68,312.38 574.2,312.2C574.73,312.02 575.98,310.98 576.5,311.5C577.02,312.02 578.27,317.31 578.7,316.7C579.13,316.09 579.85,306.38 580.2,306.3C580.55,306.22 581.37,314.18 581.7,316C582.03,317.82 582.62,320.15 583,321.9C583.38,323.65 584.48,330.03 585,331C585.52,331.97 586.92,328.8 587.5,330.2C588.08,331.6 589.48,342.44 590,343C590.52,343.56 591.57,337.22 592,335C592.43,332.78 593.33,326.05 593.7,324C594.07,321.95 594.87,320.2 595.2,317.4C595.53,314.6 596.13,305.03 596.5,300C596.87,294.97 597.99,274.3 598.4,274.3C598.81,274.3 599.67,296.54 600,300C600.33,303.46 600.88,300.76 601.2,304C601.52,307.24 602.35,326.17 602.7,327.8C603.05,329.43 603.86,320.78 604.2,318C604.54,315.22 605.33,309.02 605.6,304C605.87,298.98 606.28,281.11 606.5,275C606.72,268.89 607.25,251.6 607.5,251.6C607.75,251.6 608.25,269.35 608.6,275C608.95,280.65 609.99,294.05 610.5,300C611.01,305.95 612.44,322.76 613,326C613.56,329.24 614.8,326.19 615.3,327.8C615.8,329.41 616.81,339.62 617.3,339.8C617.79,339.98 619,331.61 619.5,329.3C620,326.99 621.12,321.39 621.6,320C622.08,318.61 623.11,317.18 623.6,317.4C624.09,317.62 625.4,323.93 625.8,321.9C626.2,319.87 626.66,304.87 627,300C627.34,295.13 628.33,280.2 628.7,280.2C629.07,280.2 629.76,295.49 630.2,300C630.64,304.51 631.98,314.43 632.5,318.9C633.02,323.37 634.18,335.95 634.7,338.3C635.23,340.65 636.48,338.3 637,339C637.52,339.7 638.59,343.78 639.2,344.3C639.81,344.82 641.5,343.68 642.2,343.5C642.9,343.32 644.5,342.45 645.2,342.8C645.9,343.15 647.5,346.07 648.2,346.5C648.9,346.93 650.44,346.27 651.2,346.5C651.96,346.73 653.67,348.19 654.7,348.5C655.73,348.81 656.7,349.08 660,349.2C663.3,349.32 680.32,349.46 683,349.5" stroke="#3c3c3c" stroke-width="1.0" stroke-dasharray="3.4,2" fill="none"/>
<path d="M483,349.4C484.52,349.37 493.07,349.17 496,349.1C498.93,349.03 506.08,349.06 508.1,348.8C510.12,348.54 512.07,347.21 513.3,346.9C514.52,346.58 517.36,346.23 518.6,346.1C519.84,345.97 523.02,346.15 523.9,345.8C524.77,345.45 525.49,343.5 526.1,343.1C526.71,342.7 528.48,343.1 529.1,342.4C529.72,341.7 530.96,338.34 531.4,337.1C531.84,335.86 532.55,331.81 532.9,331.8C533.25,331.79 533.97,335.16 534.4,337C534.83,338.84 536.08,347.24 536.6,347.6C537.12,347.96 538.46,340.64 538.9,340.1C539.34,339.56 540.05,342.03 540.4,343C540.75,343.97 541.46,349.26 541.9,348.4C542.34,347.54 543.76,337.97 544.2,335.6C544.64,333.23 545.35,328.05 545.7,328.1C546.05,328.15 546.77,333.63 547.2,336C547.63,338.37 548.91,349.67 549.4,348.4C549.89,347.13 551.06,330.75 551.4,325.1C551.74,319.45 552.05,304.98 552.3,300C552.54,295.02 553.24,282.4 553.5,282.4C553.76,282.4 554.3,294.45 554.5,300C554.7,305.55 554.83,324.7 555.2,330C555.57,335.3 557.23,343.43 557.7,345.4C558.17,347.37 558.85,350.85 559.2,346.9C559.55,342.94 560.4,315.63 560.7,311.5C561,307.37 561.53,309.04 561.8,311.5C562.07,313.96 562.78,328.47 563,332.6C563.22,336.73 563.44,346.72 563.7,346.9C563.96,347.07 564.85,334.19 565.2,334.1C565.55,334.01 566.35,345.06 566.7,346.1C567.05,347.14 567.76,345.45 568.2,343C568.64,340.55 570.06,327.01 570.5,325.1C570.94,323.19 571.57,324.33 572,326.6C572.43,328.88 573.77,343.94 574.2,344.6C574.63,345.27 575.35,335.72 575.7,332.3C576.05,328.88 576.76,316.84 577.2,315.3C577.64,313.76 578.96,318.23 579.5,319.1C580.04,319.98 581.27,320.04 581.8,322.8C582.32,325.56 583.49,341.34 584,342.8C584.51,344.26 585.68,335.12 586.2,335.3C586.73,335.48 587.98,344.1 588.5,344.3C589.02,344.5 590.27,338.4 590.7,337C591.13,335.6 591.76,332.18 592.2,332.3C592.64,332.42 593.98,338.35 594.5,338C595.02,337.65 596.19,328.56 596.7,329.3C597.21,330.04 598.43,346.12 598.9,344.3C599.37,342.48 600.26,315.45 600.7,313.7C601.14,311.95 602.29,328.87 602.7,329.3C603.11,329.73 603.77,320.88 604.2,317.4C604.63,313.92 605.89,299.85 606.4,299.5C606.91,299.15 608.17,313.88 608.6,314.4C609.03,314.92 609.75,311.58 610.1,304C610.45,296.42 611.32,253.37 611.6,249.4C611.88,245.43 612.3,264.1 612.5,270C612.7,275.9 613.14,295.35 613.3,300C613.46,304.65 613.67,306.13 613.9,309.9C614.13,313.67 615,327.86 615.3,332.3C615.6,336.75 616.15,348 616.5,348C616.85,348 617.91,333.78 618.3,332.3C618.68,330.82 619.45,333.74 619.8,335.3C620.15,336.86 620.95,344.82 621.3,345.7C621.65,346.57 622.45,342.62 622.8,342.8C623.15,342.98 623.77,346.69 624.3,347.2C624.82,347.71 626.77,347.71 627.3,347.2C627.82,346.69 628.45,343.58 628.8,342.8C629.15,342.02 629.79,340.85 630.3,340.5C630.81,340.15 632.59,339.71 633.2,339.8C633.81,339.89 634.98,340.61 635.5,341.3C636.02,341.99 636.94,345.09 637.7,345.7C638.46,346.31 640.97,346.29 642,346.5C643.03,346.71 645.45,347.24 646.5,347.5C647.55,347.76 649.59,348.5 651,348.7C652.41,348.9 654.87,349.12 658.6,349.2C662.33,349.28 680.15,349.38 683,349.4" stroke="#3246b0" stroke-width="1.05" fill="none" stroke-linejoin="round"/>
</g>
<rect x="482.5" y="244.6" width="200.9" height="105.4" fill="none" stroke="#262626" stroke-width="1.15"/>
<path d="M493.64,244.6v2.2M493.64,350v-2.2M515.98,244.6v2.2M515.98,350v-2.2M538.32,244.6v2.2M538.32,350v-2.2M560.66,244.6v2.2M560.66,350v-2.2M583,244.6v2.2M583,350v-2.2M605.34,244.6v2.2M605.34,350v-2.2M627.68,244.6v2.2M627.68,350v-2.2M650.02,244.6v2.2M650.02,350v-2.2M672.36,244.6v2.2M672.36,350v-2.2" stroke="#262626" stroke-width="1" fill="none"/>
<path d="M482.5,350h2.2M683.4,350h-2.2M482.5,329.9h2.2M683.4,329.9h-2.2M482.5,309.8h2.2M683.4,309.8h-2.2M482.5,289.7h2.2M683.4,289.7h-2.2M482.5,269.6h2.2M683.4,269.6h-2.2M482.5,249.5h2.2M683.4,249.5h-2.2" stroke="#262626" stroke-width="1" fill="none"/>
<text x="494.24" y="361.8" font-size="8.5" text-anchor="middle" font-weight="normal" font-family='"Liberation Sans", sans-serif' fill="#000" >-160</text>
<text x="516.58" y="361.8" font-size="8.5" text-anchor="middle" font-weight="normal" font-family='"Liberation Sans", sans-serif' fill="#000" >-120</text>
<text x="538.92" y="361.8" font-size="8.5" text-anchor="middle" font-weight="normal" font-family='"Liberation Sans", sans-serif' fill="#000" >-80</text>
<text x="561.26" y="361.8" font-size="8.5" text-anchor="middle" font-weight="normal" font-family='"Liberation Sans", sans-serif' fill="#000" >-40</text>
<text x="583.6" y="361.8" font-size="8.5" text-anchor="middle" font-weight="normal" font-family='"Liberation Sans", sans-serif' fill="#000" >0</text>
<text x="605.94" y="361.8" font-size="8.5" text-anchor="middle" font-weight="normal" font-family='"Liberation Sans", sans-serif' fill="#000" >40</text>
<text x="628.28" y="361.8" font-size="8.5" text-anchor="middle" font-weight="normal" font-family='"Liberation Sans", sans-serif' fill="#000" >80</text>
<text x="650.62" y="361.8" font-size="8.5" text-anchor="middle" font-weight="normal" font-family='"Liberation Sans", sans-serif' fill="#000" >120</text>
<text x="672.96" y="361.8" font-size="8.5" text-anchor="middle" font-weight="normal" font-family='"Liberation Sans", sans-serif' fill="#000" >160</text>
<text x="0" y="0" font-size="9.2" text-anchor="middle" font-weight="normal" font-family='"Liberation Sans", sans-serif' fill="#000" transform="translate(583.9,372.8) scale(1.08,1)" >Time (ps)</text>
<text x="25.8" y="144.1" font-size="8.5" text-anchor="end" font-weight="normal" font-family='"Liberation Sans", sans-serif' fill="#000" >0</text>
<text x="25.8" y="124.2" font-size="8.5" text-anchor="end" font-weight="normal" font-family='"Liberation Sans", sans-serif' fill="#000" >0.2</text>
<text x="25.8" y="104.3" font-size="8.5" text-anchor="end" font-weight="normal" font-family='"Liberation Sans", sans-serif' fill="#000" >0.4</text>
<text x="25.8" y="84.4" font-size="8.5" text-anchor="end" font-weight="normal" font-family='"Liberation Sans", sans-serif' fill="#000" >0.6</text>
<text x="25.8" y="64.5" font-size="8.5" text-anchor="end" font-weight="normal" font-family='"Liberation Sans", sans-serif' fill="#000" >0.8</text>
<text x="25.8" y="44.6" font-size="8.5" text-anchor="end" font-weight="normal" font-family='"Liberation Sans", sans-serif' fill="#000" >1</text>
<text x="26.6" y="151.9" font-size="8.5" text-anchor="end" font-weight="normal" font-family='"Liberation Sans", sans-serif' fill="#000" >0</text>
<text x="26.6" y="163.96" font-size="8.5" text-anchor="end" font-weight="normal" font-family='"Liberation Sans", sans-serif' fill="#000" >-25</text>
<text x="26.6" y="176.03" font-size="8.5" text-anchor="end" font-weight="normal" font-family='"Liberation Sans", sans-serif' fill="#000" >-50</text>
<text x="26.6" y="188.09" font-size="8.5" text-anchor="end" font-weight="normal" font-family='"Liberation Sans", sans-serif' fill="#000" >-75</text>
<text x="26.6" y="200.15" font-size="8.5" text-anchor="end" font-weight="normal" font-family='"Liberation Sans", sans-serif' fill="#000" >-100</text>
<text x="26.4" y="352.9" font-size="8.5" text-anchor="end" font-weight="normal" font-family='"Liberation Sans", sans-serif' fill="#000" >0</text>
<text x="26.4" y="332.8" font-size="8.5" text-anchor="end" font-weight="normal" font-family='"Liberation Sans", sans-serif' fill="#000" >0.2</text>
<text x="26.4" y="312.7" font-size="8.5" text-anchor="end" font-weight="normal" font-family='"Liberation Sans", sans-serif' fill="#000" >0.4</text>
<text x="26.4" y="292.6" font-size="8.5" text-anchor="end" font-weight="normal" font-family='"Liberation Sans", sans-serif' fill="#000" >0.6</text>
<text x="26.4" y="272.5" font-size="8.5" text-anchor="end" font-weight="normal" font-family='"Liberation Sans", sans-serif' fill="#000" >0.8</text>
<text x="26.4" y="252.4" font-size="8.5" text-anchor="end" font-weight="normal" font-family='"Liberation Sans", sans-serif' fill="#000" >1</text>
<text x="36.1" y="269.2" font-size="15.2" font-family='"Liberation Serif", serif' fill="#111"><tspan font-style="italic">&#961;</tspan></text>
<text x="47.4" y="269.0" font-size="14" font-family='"Liberation Serif", serif' fill="#111" transform="translate(47.4,0) scale(1.25,1) translate(-47.4,0)">=</text>
<text x="61.9" y="269.2" font-size="14" font-family='"Liberation Serif", serif' fill="#111">0.953</text>
<text x="262.9" y="269.2" font-size="15.2" font-family='"Liberation Serif", serif' fill="#111"><tspan font-style="italic">&#961;</tspan></text>
<text x="274.2" y="269.0" font-size="14" font-family='"Liberation Serif", serif' fill="#111" transform="translate(274.2,0) scale(1.25,1) translate(-274.2,0)">=</text>
<text x="288.7" y="269.2" font-size="14" font-family='"Liberation Serif", serif' fill="#111">0.956</text>
<text x="488.8" y="269.2" font-size="15.2" font-family='"Liberation Serif", serif' fill="#111"><tspan font-style="italic">&#961;</tspan></text>
<text x="500.1" y="269.0" font-size="14" font-family='"Liberation Serif", serif' fill="#111" transform="translate(500.1,0) scale(1.25,1) translate(-500.1,0)">=</text>
<text x="514.6" y="269.2" font-size="14" font-family='"Liberation Serif", serif' fill="#111">0.828</text>
</svg></body></html>
